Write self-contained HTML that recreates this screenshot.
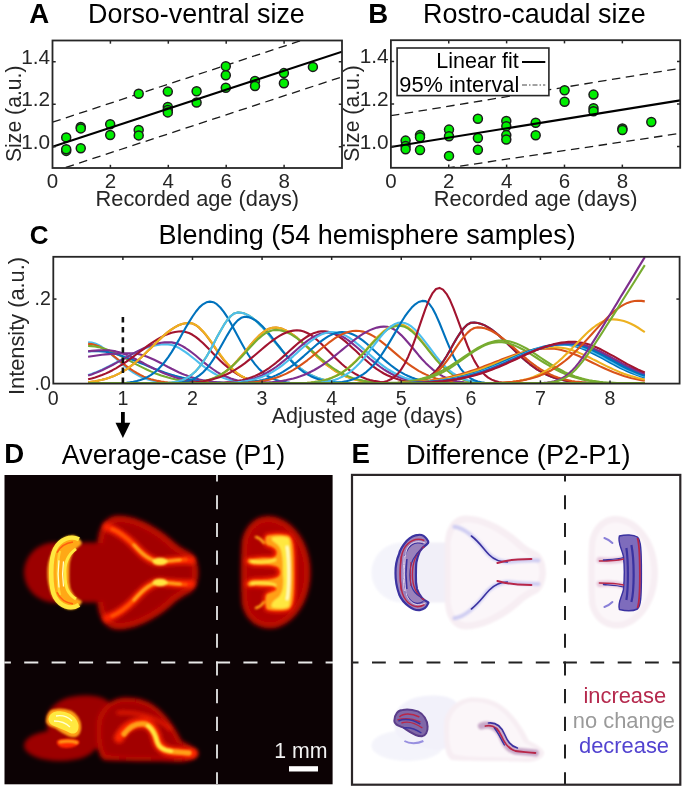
<!DOCTYPE html><html><head><meta charset="utf-8"><style>html,body{margin:0;padding:0;background:#fff;width:685px;height:790px;overflow:hidden}svg{display:block;will-change:transform}</style></head><body><svg width="685" height="790" viewBox="0 0 685 790" font-family='"Liberation Sans", sans-serif'>
<rect width="685" height="790" fill="#fff"/>
<text x="29.20" y="23.30" font-size="27.6" font-weight="700" text-anchor="start" fill="#000" >A</text>
<text x="88.10" y="23.40" font-size="26.9" font-weight="400" text-anchor="start" fill="#000" >Dorso-ventral size</text>
<text x="368.30" y="23.30" font-size="27.6" font-weight="700" text-anchor="start" fill="#000" >B</text>
<text x="423.10" y="23.40" font-size="26.9" font-weight="400" text-anchor="start" fill="#000" >Rostro-caudal size</text>
<clipPath id="clip52"><rect x="52.5" y="40.5" width="289.5" height="127.5"/></clipPath>
<g clip-path="url(#clip52)"><line x1="52.50" y1="171.83" x2="342.00" y2="76.84" stroke="#1a1a1a" stroke-width="1.3" stroke-dasharray="8.5,5.5"/><line x1="52.50" y1="122.16" x2="342.00" y2="27.18" stroke="#1a1a1a" stroke-width="1.3" stroke-dasharray="8.5,5.5"/><circle cx="66.20" cy="137.40" r="4.5" fill="#00ee00" stroke="#1c1c1c" stroke-width="1.5"/><circle cx="66.20" cy="150.90" r="4.5" fill="#00ee00" stroke="#1c1c1c" stroke-width="1.5"/><circle cx="66.20" cy="149.30" r="4.5" fill="#00ee00" stroke="#1c1c1c" stroke-width="1.5"/><circle cx="80.75" cy="126.90" r="4.5" fill="#00ee00" stroke="#1c1c1c" stroke-width="1.5"/><circle cx="80.75" cy="128.40" r="4.5" fill="#00ee00" stroke="#1c1c1c" stroke-width="1.5"/><circle cx="80.75" cy="148.30" r="4.5" fill="#00ee00" stroke="#1c1c1c" stroke-width="1.5"/><circle cx="110.20" cy="124.30" r="4.5" fill="#00ee00" stroke="#1c1c1c" stroke-width="1.5"/><circle cx="110.20" cy="135.00" r="4.5" fill="#00ee00" stroke="#1c1c1c" stroke-width="1.5"/><circle cx="138.70" cy="93.80" r="4.5" fill="#00ee00" stroke="#1c1c1c" stroke-width="1.5"/><circle cx="138.70" cy="130.00" r="4.5" fill="#00ee00" stroke="#1c1c1c" stroke-width="1.5"/><circle cx="138.70" cy="135.40" r="4.5" fill="#00ee00" stroke="#1c1c1c" stroke-width="1.5"/><circle cx="167.80" cy="91.60" r="4.5" fill="#00ee00" stroke="#1c1c1c" stroke-width="1.5"/><circle cx="167.80" cy="107.00" r="4.5" fill="#00ee00" stroke="#1c1c1c" stroke-width="1.5"/><circle cx="167.80" cy="110.00" r="4.5" fill="#00ee00" stroke="#1c1c1c" stroke-width="1.5"/><circle cx="167.80" cy="112.40" r="4.5" fill="#00ee00" stroke="#1c1c1c" stroke-width="1.5"/><circle cx="196.60" cy="91.20" r="4.5" fill="#00ee00" stroke="#1c1c1c" stroke-width="1.5"/><circle cx="196.60" cy="102.50" r="4.5" fill="#00ee00" stroke="#1c1c1c" stroke-width="1.5"/><circle cx="225.80" cy="66.30" r="4.5" fill="#00ee00" stroke="#1c1c1c" stroke-width="1.5"/><circle cx="225.80" cy="75.30" r="4.5" fill="#00ee00" stroke="#1c1c1c" stroke-width="1.5"/><circle cx="225.80" cy="87.80" r="4.5" fill="#00ee00" stroke="#1c1c1c" stroke-width="1.5"/><circle cx="255.00" cy="81.00" r="4.5" fill="#00ee00" stroke="#1c1c1c" stroke-width="1.5"/><circle cx="255.00" cy="86.00" r="4.5" fill="#00ee00" stroke="#1c1c1c" stroke-width="1.5"/><circle cx="283.90" cy="73.10" r="4.5" fill="#00ee00" stroke="#1c1c1c" stroke-width="1.5"/><circle cx="283.90" cy="83.30" r="4.5" fill="#00ee00" stroke="#1c1c1c" stroke-width="1.5"/><circle cx="312.90" cy="66.90" r="4.5" fill="#00ee00" stroke="#1c1c1c" stroke-width="1.5"/><line x1="52.50" y1="146.75" x2="342.00" y2="51.76" stroke="#000" stroke-width="2.1"/></g>
<rect x="52.5" y="40.5" width="289.5" height="127.5" fill="none" stroke="#262626" stroke-width="1.8"/>
<line x1="110.40" y1="168" x2="110.40" y2="164.8" stroke="#262626" stroke-width="1.5"/>
<line x1="110.40" y1="40.5" x2="110.40" y2="43.7" stroke="#262626" stroke-width="1.5"/>
<line x1="168.30" y1="168" x2="168.30" y2="164.8" stroke="#262626" stroke-width="1.5"/>
<line x1="168.30" y1="40.5" x2="168.30" y2="43.7" stroke="#262626" stroke-width="1.5"/>
<line x1="226.20" y1="168" x2="226.20" y2="164.8" stroke="#262626" stroke-width="1.5"/>
<line x1="226.20" y1="40.5" x2="226.20" y2="43.7" stroke="#262626" stroke-width="1.5"/>
<line x1="284.10" y1="168" x2="284.10" y2="164.8" stroke="#262626" stroke-width="1.5"/>
<line x1="284.10" y1="40.5" x2="284.10" y2="43.7" stroke="#262626" stroke-width="1.5"/>
<line x1="52.5" y1="146.75" x2="55.7" y2="146.75" stroke="#262626" stroke-width="1.5"/>
<line x1="342" y1="146.75" x2="338.8" y2="146.75" stroke="#262626" stroke-width="1.5"/>
<line x1="52.5" y1="104.25" x2="55.7" y2="104.25" stroke="#262626" stroke-width="1.5"/>
<line x1="342" y1="104.25" x2="338.8" y2="104.25" stroke="#262626" stroke-width="1.5"/>
<line x1="52.5" y1="61.75" x2="55.7" y2="61.75" stroke="#262626" stroke-width="1.5"/>
<line x1="342" y1="61.75" x2="338.8" y2="61.75" stroke="#262626" stroke-width="1.5"/>
<text x="52.50" y="188.30" font-size="20.5" font-weight="400" text-anchor="middle" fill="#262626" >0</text>
<text x="110.40" y="188.30" font-size="20.5" font-weight="400" text-anchor="middle" fill="#262626" >2</text>
<text x="168.30" y="188.30" font-size="20.5" font-weight="400" text-anchor="middle" fill="#262626" >4</text>
<text x="226.20" y="188.30" font-size="20.5" font-weight="400" text-anchor="middle" fill="#262626" >6</text>
<text x="284.10" y="188.30" font-size="20.5" font-weight="400" text-anchor="middle" fill="#262626" >8</text>
<text x="50.20" y="148.75" font-size="20.8" font-weight="400" text-anchor="end" fill="#262626" >1.0</text>
<text x="50.20" y="106.25" font-size="20.8" font-weight="400" text-anchor="end" fill="#262626" >1.2</text>
<text x="50.20" y="63.75" font-size="20.8" font-weight="400" text-anchor="end" fill="#262626" >1.4</text>
<text x="197.35" y="206.20" font-size="21.8" font-weight="400" text-anchor="middle" fill="#262626" >Recorded age (days)</text>
<text transform="translate(21.0,113.75) rotate(-90)" font-size="21.2" text-anchor="middle" fill="#262626">Size (a.u.)</text>
<clipPath id="clip390"><rect x="390.9" y="40.2" width="289.30000000000007" height="127.60000000000001"/></clipPath>
<g clip-path="url(#clip390)"><line x1="390.90" y1="176.41" x2="680.20" y2="133.35" stroke="#1a1a1a" stroke-width="1.3" stroke-dasharray="8.5,5.5"/><line x1="390.90" y1="115.70" x2="680.20" y2="68.27" stroke="#1a1a1a" stroke-width="1.3" stroke-dasharray="8.5,5.5"/><circle cx="405.60" cy="140.60" r="4.5" fill="#00ee00" stroke="#1c1c1c" stroke-width="1.5"/><circle cx="405.60" cy="146.00" r="4.5" fill="#00ee00" stroke="#1c1c1c" stroke-width="1.5"/><circle cx="405.60" cy="149.30" r="4.5" fill="#00ee00" stroke="#1c1c1c" stroke-width="1.5"/><circle cx="420.00" cy="135.10" r="4.5" fill="#00ee00" stroke="#1c1c1c" stroke-width="1.5"/><circle cx="420.00" cy="137.30" r="4.5" fill="#00ee00" stroke="#1c1c1c" stroke-width="1.5"/><circle cx="420.00" cy="150.00" r="4.5" fill="#00ee00" stroke="#1c1c1c" stroke-width="1.5"/><circle cx="449.00" cy="129.60" r="4.5" fill="#00ee00" stroke="#1c1c1c" stroke-width="1.5"/><circle cx="449.00" cy="136.20" r="4.5" fill="#00ee00" stroke="#1c1c1c" stroke-width="1.5"/><circle cx="449.00" cy="155.90" r="4.5" fill="#00ee00" stroke="#1c1c1c" stroke-width="1.5"/><circle cx="477.90" cy="118.70" r="4.5" fill="#00ee00" stroke="#1c1c1c" stroke-width="1.5"/><circle cx="477.90" cy="138.00" r="4.5" fill="#00ee00" stroke="#1c1c1c" stroke-width="1.5"/><circle cx="477.90" cy="149.80" r="4.5" fill="#00ee00" stroke="#1c1c1c" stroke-width="1.5"/><circle cx="506.30" cy="120.90" r="4.5" fill="#00ee00" stroke="#1c1c1c" stroke-width="1.5"/><circle cx="506.30" cy="126.30" r="4.5" fill="#00ee00" stroke="#1c1c1c" stroke-width="1.5"/><circle cx="506.30" cy="135.10" r="4.5" fill="#00ee00" stroke="#1c1c1c" stroke-width="1.5"/><circle cx="506.30" cy="139.50" r="4.5" fill="#00ee00" stroke="#1c1c1c" stroke-width="1.5"/><circle cx="535.70" cy="122.70" r="4.5" fill="#00ee00" stroke="#1c1c1c" stroke-width="1.5"/><circle cx="535.70" cy="135.30" r="4.5" fill="#00ee00" stroke="#1c1c1c" stroke-width="1.5"/><circle cx="564.60" cy="90.20" r="4.5" fill="#00ee00" stroke="#1c1c1c" stroke-width="1.5"/><circle cx="564.60" cy="101.80" r="4.5" fill="#00ee00" stroke="#1c1c1c" stroke-width="1.5"/><circle cx="593.50" cy="94.60" r="4.5" fill="#00ee00" stroke="#1c1c1c" stroke-width="1.5"/><circle cx="593.50" cy="108.30" r="4.5" fill="#00ee00" stroke="#1c1c1c" stroke-width="1.5"/><circle cx="593.50" cy="111.20" r="4.5" fill="#00ee00" stroke="#1c1c1c" stroke-width="1.5"/><circle cx="622.40" cy="128.50" r="4.5" fill="#00ee00" stroke="#1c1c1c" stroke-width="1.5"/><circle cx="622.40" cy="130.00" r="4.5" fill="#00ee00" stroke="#1c1c1c" stroke-width="1.5"/><circle cx="651.30" cy="122.00" r="4.5" fill="#00ee00" stroke="#1c1c1c" stroke-width="1.5"/><line x1="390.90" y1="146.96" x2="680.20" y2="100.38" stroke="#000" stroke-width="2.1"/></g>
<rect x="390.9" y="40.2" width="289.30000000000007" height="127.60000000000001" fill="none" stroke="#262626" stroke-width="1.8"/>
<line x1="448.76" y1="167.8" x2="448.76" y2="164.60000000000002" stroke="#262626" stroke-width="1.5"/>
<line x1="448.76" y1="40.2" x2="448.76" y2="43.400000000000006" stroke="#262626" stroke-width="1.5"/>
<line x1="506.62" y1="167.8" x2="506.62" y2="164.60000000000002" stroke="#262626" stroke-width="1.5"/>
<line x1="506.62" y1="40.2" x2="506.62" y2="43.400000000000006" stroke="#262626" stroke-width="1.5"/>
<line x1="564.48" y1="167.8" x2="564.48" y2="164.60000000000002" stroke="#262626" stroke-width="1.5"/>
<line x1="564.48" y1="40.2" x2="564.48" y2="43.400000000000006" stroke="#262626" stroke-width="1.5"/>
<line x1="622.34" y1="167.8" x2="622.34" y2="164.60000000000002" stroke="#262626" stroke-width="1.5"/>
<line x1="622.34" y1="40.2" x2="622.34" y2="43.400000000000006" stroke="#262626" stroke-width="1.5"/>
<line x1="390.9" y1="146.53" x2="394.09999999999997" y2="146.53" stroke="#262626" stroke-width="1.5"/>
<line x1="680.2" y1="146.53" x2="677.0" y2="146.53" stroke="#262626" stroke-width="1.5"/>
<line x1="390.9" y1="104.00" x2="394.09999999999997" y2="104.00" stroke="#262626" stroke-width="1.5"/>
<line x1="680.2" y1="104.00" x2="677.0" y2="104.00" stroke="#262626" stroke-width="1.5"/>
<line x1="390.9" y1="61.47" x2="394.09999999999997" y2="61.47" stroke="#262626" stroke-width="1.5"/>
<line x1="680.2" y1="61.47" x2="677.0" y2="61.47" stroke="#262626" stroke-width="1.5"/>
<text x="390.90" y="188.10" font-size="20.5" font-weight="400" text-anchor="middle" fill="#262626" >0</text>
<text x="448.76" y="188.10" font-size="20.5" font-weight="400" text-anchor="middle" fill="#262626" >2</text>
<text x="506.62" y="188.10" font-size="20.5" font-weight="400" text-anchor="middle" fill="#262626" >4</text>
<text x="564.48" y="188.10" font-size="20.5" font-weight="400" text-anchor="middle" fill="#262626" >6</text>
<text x="622.34" y="188.10" font-size="20.5" font-weight="400" text-anchor="middle" fill="#262626" >8</text>
<text x="388.60" y="148.53" font-size="20.8" font-weight="400" text-anchor="end" fill="#262626" >1.0</text>
<text x="388.60" y="106.00" font-size="20.8" font-weight="400" text-anchor="end" fill="#262626" >1.2</text>
<text x="388.60" y="63.47" font-size="20.8" font-weight="400" text-anchor="end" fill="#262626" >1.4</text>
<text x="535.65" y="206.00" font-size="21.8" font-weight="400" text-anchor="middle" fill="#262626" >Recorded age (days)</text>
<text transform="translate(359.4,113.5) rotate(-90)" font-size="21.2" text-anchor="middle" fill="#262626">Size (a.u.)</text>
<rect x="397.1" y="48" width="151.8" height="47.6" fill="#fff" stroke="#262626" stroke-width="1.6"/>
<text x="518.80" y="67.70" font-size="21.5" font-weight="400" text-anchor="end" fill="#000" >Linear fit</text>
<text x="519.30" y="92.20" font-size="21.8" font-weight="400" text-anchor="end" fill="#000" >95% interval</text>
<line x1="522" y1="62" x2="545.3" y2="62" stroke="#000" stroke-width="2"/>
<line x1="522" y1="85" x2="545.3" y2="85" stroke="#444" stroke-width="1" stroke-dasharray="5,2,1.5,2"/>
<text x="29.80" y="244.20" font-size="26" font-weight="700" text-anchor="start" fill="#000" >C</text>
<text x="158.60" y="243.80" font-size="27" font-weight="400" text-anchor="start" fill="#000" >Blending (54 hemisphere samples)</text>
<clipPath id="clipC"><rect x="53.3" y="256.3" width="626.3000000000001" height="127.80000000000001"/></clipPath>
<g clip-path="url(#clipC)" fill="none" stroke-width="2.1" stroke-linejoin="round"><line x1="88.09" y1="383.60" x2="644.81" y2="383.60" stroke="#0072BD"/><polyline points="88.1,342.2 91.6,342.5 95.1,343.5 98.5,345.0 102.0,347.0 105.5,349.5 109.0,352.3 112.5,355.4 115.9,358.5 119.4,361.6 122.9,364.6 126.4,367.5 129.8,370.2 133.3,372.5 136.8,374.6 140.3,376.5 143.8,378.0 147.2,379.3 150.7,380.3 154.2,381.1 157.7,381.8 161.2,382.3 164.6,382.7 168.1,382.9 171.6,383.1 175.1,383.3 178.6,383.4 182.0,383.5 185.5,383.5 189.0,383.5 192.5,383.6 196.0,383.6 199.4,383.6 202.9,383.6 206.4,383.6 209.9,383.6 213.4,383.6 216.8,383.6 220.3,383.6 223.8,383.6 227.3,383.6 230.8,383.6 234.2,383.6 237.7,383.6 241.2,383.6 244.7,383.6 248.1,383.6 251.6,383.6 255.1,383.6 258.6,383.6 262.1,383.6 265.5,383.6 269.0,383.6 272.5,383.6 276.0,383.6 279.5,383.6 282.9,383.6 286.4,383.6 289.9,383.6 293.4,383.6 296.9,383.6 300.3,383.6 303.8,383.6 307.3,383.6 310.8,383.6 314.3,383.6 317.7,383.6 321.2,383.6 324.7,383.6 328.2,383.6 331.7,383.6 335.1,383.6 338.6,383.6 342.1,383.6 345.6,383.6 349.1,383.6 352.5,383.6 356.0,383.6 359.5,383.6 363.0,383.6 366.5,383.6 369.9,383.6 373.4,383.6 376.9,383.6 380.4,383.6 383.8,383.6 387.3,383.6 390.8,383.6 394.3,383.6 397.8,383.6 401.2,383.6 404.7,383.6 408.2,383.6 411.7,383.6 415.2,383.6 418.6,383.6 422.1,383.6 425.6,383.6 429.1,383.6 432.6,383.6 436.0,383.6 439.5,383.6 443.0,383.6 446.5,383.6 450.0,383.6 453.4,383.6 456.9,383.6 460.4,383.6 463.9,383.6 467.4,383.6 470.8,383.6 474.3,383.6 477.8,383.6 481.3,383.6 484.8,383.6 488.2,383.6 491.7,383.6 495.2,383.6 498.7,383.6 502.1,383.6 505.6,383.6 509.1,383.6 512.6,383.6 516.1,383.6 519.5,383.6 523.0,383.6 526.5,383.6 530.0,383.6 533.5,383.6 536.9,383.6 540.4,383.6 543.9,383.6 547.4,383.6 550.9,383.6 554.3,383.6 557.8,383.6 561.3,383.6 564.8,383.6 568.3,383.6 571.7,383.6 575.2,383.6 578.7,383.6 582.2,383.6 585.7,383.6 589.1,383.6 592.6,383.6 596.1,383.6 599.6,383.6 603.1,383.6 606.5,383.6 610.0,383.6 613.5,383.6 617.0,383.6 620.4,383.6 623.9,383.6 627.4,383.6 630.9,383.6 634.4,383.6 637.8,383.6 641.3,383.6 644.8,383.6" stroke="#4DBEEE"/><polyline points="88.1,343.9 91.6,344.1 95.1,344.9 98.5,346.2 102.0,347.9 105.5,350.0 109.0,352.5 112.5,355.1 115.9,357.8 119.4,360.6 122.9,363.4 126.4,366.1 129.8,368.6 133.3,370.9 136.8,373.0 140.3,374.9 143.8,376.6 147.2,378.0 150.7,379.2 154.2,380.1 157.7,380.9 161.2,381.6 164.6,382.1 168.1,382.5 171.6,382.8 175.1,383.0 178.6,383.2 182.0,383.3 185.5,383.4 189.0,383.5 192.5,383.5 196.0,383.5 199.4,383.6 202.9,383.6 206.4,383.6 209.9,383.6 213.4,383.6 216.8,383.6 220.3,383.6 223.8,383.6 227.3,383.6 230.8,383.6 234.2,383.6 237.7,383.6 241.2,383.6 244.7,383.6 248.1,383.6 251.6,383.6 255.1,383.6 258.6,383.6 262.1,383.6 265.5,383.6 269.0,383.6 272.5,383.6 276.0,383.6 279.5,383.6 282.9,383.6 286.4,383.6 289.9,383.6 293.4,383.6 296.9,383.6 300.3,383.6 303.8,383.6 307.3,383.6 310.8,383.6 314.3,383.6 317.7,383.6 321.2,383.6 324.7,383.6 328.2,383.6 331.7,383.6 335.1,383.6 338.6,383.6 342.1,383.6 345.6,383.6 349.1,383.6 352.5,383.6 356.0,383.6 359.5,383.6 363.0,383.6 366.5,383.6 369.9,383.6 373.4,383.6 376.9,383.6 380.4,383.6 383.8,383.6 387.3,383.6 390.8,383.6 394.3,383.6 397.8,383.6 401.2,383.6 404.7,383.6 408.2,383.6 411.7,383.6 415.2,383.6 418.6,383.6 422.1,383.6 425.6,383.6 429.1,383.6 432.6,383.6 436.0,383.6 439.5,383.6 443.0,383.6 446.5,383.6 450.0,383.6 453.4,383.6 456.9,383.6 460.4,383.6 463.9,383.6 467.4,383.6 470.8,383.6 474.3,383.6 477.8,383.6 481.3,383.6 484.8,383.6 488.2,383.6 491.7,383.6 495.2,383.6 498.7,383.6 502.1,383.6 505.6,383.6 509.1,383.6 512.6,383.6 516.1,383.6 519.5,383.6 523.0,383.6 526.5,383.6 530.0,383.6 533.5,383.6 536.9,383.6 540.4,383.6 543.9,383.6 547.4,383.6 550.9,383.6 554.3,383.6 557.8,383.6 561.3,383.6 564.8,383.6 568.3,383.6 571.7,383.6 575.2,383.6 578.7,383.6 582.2,383.6 585.7,383.6 589.1,383.6 592.6,383.6 596.1,383.6 599.6,383.6 603.1,383.6 606.5,383.6 610.0,383.6 613.5,383.6 617.0,383.6 620.4,383.6 623.9,383.6 627.4,383.6 630.9,383.6 634.4,383.6 637.8,383.6 641.3,383.6 644.8,383.6" stroke="#D95319"/><polyline points="88.1,346.0 91.6,346.1 95.1,346.5 98.5,347.1 102.0,348.0 105.5,349.1 109.0,350.4 112.5,351.9 115.9,353.5 119.4,355.2 122.9,357.0 126.4,358.9 129.8,360.8 133.3,362.7 136.8,364.6 140.3,366.4 143.8,368.1 147.2,369.8 150.7,371.4 154.2,372.9 157.7,374.2 161.2,375.5 164.6,376.6 168.1,377.6 171.6,378.5 175.1,379.3 178.6,380.0 182.0,380.6 185.5,381.1 189.0,381.6 192.5,381.9 196.0,382.3 199.4,382.5 202.9,382.7 206.4,382.9 209.9,383.1 213.4,383.2 216.8,383.3 220.3,383.4 223.8,383.4 227.3,383.5 230.8,383.5 234.2,383.5 237.7,383.5 241.2,383.6 244.7,383.6 248.1,383.6 251.6,383.6 255.1,383.6 258.6,383.6 262.1,383.6 265.5,383.6 269.0,383.6 272.5,383.6 276.0,383.6 279.5,383.6 282.9,383.6 286.4,383.6 289.9,383.6 293.4,383.6 296.9,383.6 300.3,383.6 303.8,383.6 307.3,383.6 310.8,383.6 314.3,383.6 317.7,383.6 321.2,383.6 324.7,383.6 328.2,383.6 331.7,383.6 335.1,383.6 338.6,383.6 342.1,383.6 345.6,383.6 349.1,383.6 352.5,383.6 356.0,383.6 359.5,383.6 363.0,383.6 366.5,383.6 369.9,383.6 373.4,383.6 376.9,383.6 380.4,383.6 383.8,383.6 387.3,383.6 390.8,383.6 394.3,383.6 397.8,383.6 401.2,383.6 404.7,383.6 408.2,383.6 411.7,383.6 415.2,383.6 418.6,383.6 422.1,383.6 425.6,383.6 429.1,383.6 432.6,383.6 436.0,383.6 439.5,383.6 443.0,383.6 446.5,383.6 450.0,383.6 453.4,383.6 456.9,383.6 460.4,383.6 463.9,383.6 467.4,383.6 470.8,383.6 474.3,383.6 477.8,383.6 481.3,383.6 484.8,383.6 488.2,383.6 491.7,383.6 495.2,383.6 498.7,383.6 502.1,383.6 505.6,383.6 509.1,383.6 512.6,383.6 516.1,383.6 519.5,383.6 523.0,383.6 526.5,383.6 530.0,383.6 533.5,383.6 536.9,383.6 540.4,383.6 543.9,383.6 547.4,383.6 550.9,383.6 554.3,383.6 557.8,383.6 561.3,383.6 564.8,383.6 568.3,383.6 571.7,383.6 575.2,383.6 578.7,383.6 582.2,383.6 585.7,383.6 589.1,383.6 592.6,383.6 596.1,383.6 599.6,383.6 603.1,383.6 606.5,383.6 610.0,383.6 613.5,383.6 617.0,383.6 620.4,383.6 623.9,383.6 627.4,383.6 630.9,383.6 634.4,383.6 637.8,383.6 641.3,383.6 644.8,383.6" stroke="#77AC30"/><polyline points="88.1,351.5 91.6,351.2 95.1,351.1 98.5,351.1 102.0,351.4 105.5,351.8 109.0,352.4 112.5,353.2 115.9,354.1 119.4,355.1 122.9,356.2 126.4,357.5 129.8,358.8 133.3,360.1 136.8,361.5 140.3,363.0 143.8,364.4 147.2,365.9 150.7,367.3 154.2,368.7 157.7,370.0 161.2,371.3 164.6,372.6 168.1,373.7 171.6,374.8 175.1,375.8 178.6,376.7 182.0,377.6 185.5,378.4 189.0,379.1 192.5,379.7 196.0,380.2 199.4,380.7 202.9,381.2 206.4,381.6 209.9,381.9 213.4,382.2 216.8,382.4 220.3,382.6 223.8,382.8 227.3,382.9 230.8,383.1 234.2,383.2 237.7,383.3 241.2,383.3 244.7,383.4 248.1,383.4 251.6,383.5 255.1,383.5 258.6,383.5 262.1,383.5 265.5,383.6 269.0,383.6 272.5,383.6 276.0,383.6 279.5,383.6 282.9,383.6 286.4,383.6 289.9,383.6 293.4,383.6 296.9,383.6 300.3,383.6 303.8,383.6 307.3,383.6 310.8,383.6 314.3,383.6 317.7,383.6 321.2,383.6 324.7,383.6 328.2,383.6 331.7,383.6 335.1,383.6 338.6,383.6 342.1,383.6 345.6,383.6 349.1,383.6 352.5,383.6 356.0,383.6 359.5,383.6 363.0,383.6 366.5,383.6 369.9,383.6 373.4,383.6 376.9,383.6 380.4,383.6 383.8,383.6 387.3,383.6 390.8,383.6 394.3,383.6 397.8,383.6 401.2,383.6 404.7,383.6 408.2,383.6 411.7,383.6 415.2,383.6 418.6,383.6 422.1,383.6 425.6,383.6 429.1,383.6 432.6,383.6 436.0,383.6 439.5,383.6 443.0,383.6 446.5,383.6 450.0,383.6 453.4,383.6 456.9,383.6 460.4,383.6 463.9,383.6 467.4,383.6 470.8,383.6 474.3,383.6 477.8,383.6 481.3,383.6 484.8,383.6 488.2,383.6 491.7,383.6 495.2,383.6 498.7,383.6 502.1,383.6 505.6,383.6 509.1,383.6 512.6,383.6 516.1,383.6 519.5,383.6 523.0,383.6 526.5,383.6 530.0,383.6 533.5,383.6 536.9,383.6 540.4,383.6 543.9,383.6 547.4,383.6 550.9,383.6 554.3,383.6 557.8,383.6 561.3,383.6 564.8,383.6 568.3,383.6 571.7,383.6 575.2,383.6 578.7,383.6 582.2,383.6 585.7,383.6 589.1,383.6 592.6,383.6 596.1,383.6 599.6,383.6 603.1,383.6 606.5,383.6 610.0,383.6 613.5,383.6 617.0,383.6 620.4,383.6 623.9,383.6 627.4,383.6 630.9,383.6 634.4,383.6 637.8,383.6 641.3,383.6 644.8,383.6" stroke="#0072BD"/><polyline points="88.1,351.2 91.6,350.9 95.1,350.6 98.5,350.4 102.0,350.3 105.5,350.2 109.0,350.3 112.5,350.8 115.9,351.4 119.4,352.3 122.9,353.5 126.4,354.8 129.8,356.3 133.3,358.0 136.8,359.7 140.3,361.5 143.8,363.3 147.2,365.2 150.7,367.0 154.2,368.7 157.7,370.4 161.2,372.0 164.6,373.5 168.1,374.8 171.6,376.1 175.1,377.2 178.6,378.2 182.0,379.1 185.5,379.8 189.0,380.5 192.5,381.1 196.0,381.6 199.4,382.0 202.9,382.3 206.4,382.6 209.9,382.8 213.4,383.0 216.8,383.1 220.3,383.2 223.8,383.3 227.3,383.4 230.8,383.4 234.2,383.5 237.7,383.5 241.2,383.5 244.7,383.6 248.1,383.6 251.6,383.6 255.1,383.6 258.6,383.6 262.1,383.6 265.5,383.6 269.0,383.6 272.5,383.6 276.0,383.6 279.5,383.6 282.9,383.6 286.4,383.6 289.9,383.6 293.4,383.6 296.9,383.6 300.3,383.6 303.8,383.6 307.3,383.6 310.8,383.6 314.3,383.6 317.7,383.6 321.2,383.6 324.7,383.6 328.2,383.6 331.7,383.6 335.1,383.6 338.6,383.6 342.1,383.6 345.6,383.6 349.1,383.6 352.5,383.6 356.0,383.6 359.5,383.6 363.0,383.6 366.5,383.6 369.9,383.6 373.4,383.6 376.9,383.6 380.4,383.6 383.8,383.6 387.3,383.6 390.8,383.6 394.3,383.6 397.8,383.6 401.2,383.6 404.7,383.6 408.2,383.6 411.7,383.6 415.2,383.6 418.6,383.6 422.1,383.6 425.6,383.6 429.1,383.6 432.6,383.6 436.0,383.6 439.5,383.6 443.0,383.6 446.5,383.6 450.0,383.6 453.4,383.6 456.9,383.6 460.4,383.6 463.9,383.6 467.4,383.6 470.8,383.6 474.3,383.6 477.8,383.6 481.3,383.6 484.8,383.6 488.2,383.6 491.7,383.6 495.2,383.6 498.7,383.6 502.1,383.6 505.6,383.6 509.1,383.6 512.6,383.6 516.1,383.6 519.5,383.6 523.0,383.6 526.5,383.6 530.0,383.6 533.5,383.6 536.9,383.6 540.4,383.6 543.9,383.6 547.4,383.6 550.9,383.6 554.3,383.6 557.8,383.6 561.3,383.6 564.8,383.6 568.3,383.6 571.7,383.6 575.2,383.6 578.7,383.6 582.2,383.6 585.7,383.6 589.1,383.6 592.6,383.6 596.1,383.6 599.6,383.6 603.1,383.6 606.5,383.6 610.0,383.6 613.5,383.6 617.0,383.6 620.4,383.6 623.9,383.6 627.4,383.6 630.9,383.6 634.4,383.6 637.8,383.6 641.3,383.6 644.8,383.6" stroke="#7E2F8E"/><polyline points="88.1,356.7 91.6,356.2 95.1,355.7 98.5,355.2 102.0,354.8 105.5,354.4 109.0,354.1 112.5,353.8 115.9,353.6 119.4,353.4 122.9,353.3 126.4,353.2 129.8,353.2 133.3,353.3 136.8,353.8 140.3,354.5 143.8,355.5 147.2,356.7 150.7,358.2 154.2,359.8 157.7,361.5 161.2,363.3 164.6,365.1 168.1,367.0 171.6,368.8 175.1,370.5 178.6,372.2 182.0,373.7 185.5,375.1 189.0,376.4 192.5,377.6 196.0,378.6 199.4,379.5 202.9,380.2 206.4,380.9 209.9,381.4 213.4,381.9 216.8,382.3 220.3,382.6 223.8,382.8 227.3,383.0 230.8,383.1 234.2,383.3 237.7,383.4 241.2,383.4 244.7,383.5 248.1,383.5 251.6,383.5 255.1,383.6 258.6,383.6 262.1,383.6 265.5,383.6 269.0,383.6 272.5,383.6 276.0,383.6 279.5,383.6 282.9,383.6 286.4,383.6 289.9,383.6 293.4,383.6 296.9,383.6 300.3,383.6 303.8,383.6 307.3,383.6 310.8,383.6 314.3,383.6 317.7,383.6 321.2,383.6 324.7,383.6 328.2,383.6 331.7,383.6 335.1,383.6 338.6,383.6 342.1,383.6 345.6,383.6 349.1,383.6 352.5,383.6 356.0,383.6 359.5,383.6 363.0,383.6 366.5,383.6 369.9,383.6 373.4,383.6 376.9,383.6 380.4,383.6 383.8,383.6 387.3,383.6 390.8,383.6 394.3,383.6 397.8,383.6 401.2,383.6 404.7,383.6 408.2,383.6 411.7,383.6 415.2,383.6 418.6,383.6 422.1,383.6 425.6,383.6 429.1,383.6 432.6,383.6 436.0,383.6 439.5,383.6 443.0,383.6 446.5,383.6 450.0,383.6 453.4,383.6 456.9,383.6 460.4,383.6 463.9,383.6 467.4,383.6 470.8,383.6 474.3,383.6 477.8,383.6 481.3,383.6 484.8,383.6 488.2,383.6 491.7,383.6 495.2,383.6 498.7,383.6 502.1,383.6 505.6,383.6 509.1,383.6 512.6,383.6 516.1,383.6 519.5,383.6 523.0,383.6 526.5,383.6 530.0,383.6 533.5,383.6 536.9,383.6 540.4,383.6 543.9,383.6 547.4,383.6 550.9,383.6 554.3,383.6 557.8,383.6 561.3,383.6 564.8,383.6 568.3,383.6 571.7,383.6 575.2,383.6 578.7,383.6 582.2,383.6 585.7,383.6 589.1,383.6 592.6,383.6 596.1,383.6 599.6,383.6 603.1,383.6 606.5,383.6 610.0,383.6 613.5,383.6 617.0,383.6 620.4,383.6 623.9,383.6 627.4,383.6 630.9,383.6 634.4,383.6 637.8,383.6 641.3,383.6 644.8,383.6" stroke="#7E2F8E"/><polyline points="88.1,375.1 91.6,373.9 95.1,372.6 98.5,371.1 102.0,369.6 105.5,368.0 109.0,366.3 112.5,364.5 115.9,362.7 119.4,360.9 122.9,359.0 126.4,357.2 129.8,355.3 133.3,353.6 136.8,351.9 140.3,350.3 143.8,348.9 147.2,347.6 150.7,346.5 154.2,345.7 157.7,345.0 161.2,344.5 164.6,344.3 168.1,344.4 171.6,345.0 175.1,346.1 178.6,347.7 182.0,349.8 185.5,352.1 189.0,354.7 192.5,357.5 196.0,360.3 199.4,363.1 202.9,365.9 206.4,368.5 209.9,370.8 213.4,373.0 216.8,374.9 220.3,376.6 223.8,378.0 227.3,379.2 230.8,380.2 234.2,381.0 237.7,381.7 241.2,382.2 244.7,382.5 248.1,382.8 251.6,383.1 255.1,383.2 258.6,383.3 262.1,383.4 265.5,383.5 269.0,383.5 272.5,383.5 276.0,383.6 279.5,383.6 282.9,383.6 286.4,383.6 289.9,383.6 293.4,383.6 296.9,383.6 300.3,383.6 303.8,383.6 307.3,383.6 310.8,383.6 314.3,383.6 317.7,383.6 321.2,383.6 324.7,383.6 328.2,383.6 331.7,383.6 335.1,383.6 338.6,383.6 342.1,383.6 345.6,383.6 349.1,383.6 352.5,383.6 356.0,383.6 359.5,383.6 363.0,383.6 366.5,383.6 369.9,383.6 373.4,383.6 376.9,383.6 380.4,383.6 383.8,383.6 387.3,383.6 390.8,383.6 394.3,383.6 397.8,383.6 401.2,383.6 404.7,383.6 408.2,383.6 411.7,383.6 415.2,383.6 418.6,383.6 422.1,383.6 425.6,383.6 429.1,383.6 432.6,383.6 436.0,383.6 439.5,383.6 443.0,383.6 446.5,383.6 450.0,383.6 453.4,383.6 456.9,383.6 460.4,383.6 463.9,383.6 467.4,383.6 470.8,383.6 474.3,383.6 477.8,383.6 481.3,383.6 484.8,383.6 488.2,383.6 491.7,383.6 495.2,383.6 498.7,383.6 502.1,383.6 505.6,383.6 509.1,383.6 512.6,383.6 516.1,383.6 519.5,383.6 523.0,383.6 526.5,383.6 530.0,383.6 533.5,383.6 536.9,383.6 540.4,383.6 543.9,383.6 547.4,383.6 550.9,383.6 554.3,383.6 557.8,383.6 561.3,383.6 564.8,383.6 568.3,383.6 571.7,383.6 575.2,383.6 578.7,383.6 582.2,383.6 585.7,383.6 589.1,383.6 592.6,383.6 596.1,383.6 599.6,383.6 603.1,383.6 606.5,383.6 610.0,383.6 613.5,383.6 617.0,383.6 620.4,383.6 623.9,383.6 627.4,383.6 630.9,383.6 634.4,383.6 637.8,383.6 641.3,383.6 644.8,383.6" stroke="#4DBEEE"/><polyline points="88.1,375.6 91.6,374.4 95.1,373.1 98.5,371.7 102.0,370.2 105.5,368.5 109.0,366.8 112.5,365.0 115.9,363.1 119.4,361.2 122.9,359.3 126.4,357.3 129.8,355.4 133.3,353.4 136.8,351.6 140.3,349.9 143.8,348.2 147.2,346.8 150.7,345.5 154.2,344.3 157.7,343.5 161.2,342.8 164.6,342.4 168.1,342.2 171.6,342.4 175.1,343.1 178.6,344.3 182.0,345.9 185.5,348.0 189.0,350.4 192.5,353.0 196.0,355.8 199.4,358.7 202.9,361.6 206.4,364.4 209.9,367.0 213.4,369.5 216.8,371.8 220.3,373.8 223.8,375.6 227.3,377.1 230.8,378.4 234.2,379.5 237.7,380.5 241.2,381.2 244.7,381.8 248.1,382.2 251.6,382.6 255.1,382.9 258.6,383.1 262.1,383.2 265.5,383.3 269.0,383.4 272.5,383.5 276.0,383.5 279.5,383.5 282.9,383.6 286.4,383.6 289.9,383.6 293.4,383.6 296.9,383.6 300.3,383.6 303.8,383.6 307.3,383.6 310.8,383.6 314.3,383.6 317.7,383.6 321.2,383.6 324.7,383.6 328.2,383.6 331.7,383.6 335.1,383.6 338.6,383.6 342.1,383.6 345.6,383.6 349.1,383.6 352.5,383.6 356.0,383.6 359.5,383.6 363.0,383.6 366.5,383.6 369.9,383.6 373.4,383.6 376.9,383.6 380.4,383.6 383.8,383.6 387.3,383.6 390.8,383.6 394.3,383.6 397.8,383.6 401.2,383.6 404.7,383.6 408.2,383.6 411.7,383.6 415.2,383.6 418.6,383.6 422.1,383.6 425.6,383.6 429.1,383.6 432.6,383.6 436.0,383.6 439.5,383.6 443.0,383.6 446.5,383.6 450.0,383.6 453.4,383.6 456.9,383.6 460.4,383.6 463.9,383.6 467.4,383.6 470.8,383.6 474.3,383.6 477.8,383.6 481.3,383.6 484.8,383.6 488.2,383.6 491.7,383.6 495.2,383.6 498.7,383.6 502.1,383.6 505.6,383.6 509.1,383.6 512.6,383.6 516.1,383.6 519.5,383.6 523.0,383.6 526.5,383.6 530.0,383.6 533.5,383.6 536.9,383.6 540.4,383.6 543.9,383.6 547.4,383.6 550.9,383.6 554.3,383.6 557.8,383.6 561.3,383.6 564.8,383.6 568.3,383.6 571.7,383.6 575.2,383.6 578.7,383.6 582.2,383.6 585.7,383.6 589.1,383.6 592.6,383.6 596.1,383.6 599.6,383.6 603.1,383.6 606.5,383.6 610.0,383.6 613.5,383.6 617.0,383.6 620.4,383.6 623.9,383.6 627.4,383.6 630.9,383.6 634.4,383.6 637.8,383.6 641.3,383.6 644.8,383.6" stroke="#7E2F8E"/><polyline points="88.1,379.3 91.6,378.4 95.1,377.4 98.5,376.3 102.0,375.0 105.5,373.6 109.0,372.0 112.5,370.2 115.9,368.3 119.4,366.2 122.9,364.0 126.4,361.7 129.8,359.2 133.3,356.7 136.8,354.0 140.3,351.4 143.8,348.8 147.2,346.2 150.7,343.7 154.2,341.3 157.7,339.1 161.2,337.2 164.6,335.4 168.1,334.0 171.6,332.8 175.1,332.0 178.6,331.5 182.0,331.4 185.5,331.9 189.0,333.0 192.5,334.8 196.0,337.1 199.4,339.9 202.9,343.1 206.4,346.5 209.9,350.1 213.4,353.7 216.8,357.3 220.3,360.7 223.8,364.0 227.3,367.0 230.8,369.7 234.2,372.2 237.7,374.3 241.2,376.1 244.7,377.7 248.1,379.0 251.6,380.0 255.1,380.9 258.6,381.6 262.1,382.1 265.5,382.5 269.0,382.8 272.5,383.0 276.0,383.2 279.5,383.3 282.9,383.4 286.4,383.5 289.9,383.5 293.4,383.5 296.9,383.6 300.3,383.6 303.8,383.6 307.3,383.6 310.8,383.6 314.3,383.6 317.7,383.6 321.2,383.6 324.7,383.6 328.2,383.6 331.7,383.6 335.1,383.6 338.6,383.6 342.1,383.6 345.6,383.6 349.1,383.6 352.5,383.6 356.0,383.6 359.5,383.6 363.0,383.6 366.5,383.6 369.9,383.6 373.4,383.6 376.9,383.6 380.4,383.6 383.8,383.6 387.3,383.6 390.8,383.6 394.3,383.6 397.8,383.6 401.2,383.6 404.7,383.6 408.2,383.6 411.7,383.6 415.2,383.6 418.6,383.6 422.1,383.6 425.6,383.6 429.1,383.6 432.6,383.6 436.0,383.6 439.5,383.6 443.0,383.6 446.5,383.6 450.0,383.6 453.4,383.6 456.9,383.6 460.4,383.6 463.9,383.6 467.4,383.6 470.8,383.6 474.3,383.6 477.8,383.6 481.3,383.6 484.8,383.6 488.2,383.6 491.7,383.6 495.2,383.6 498.7,383.6 502.1,383.6 505.6,383.6 509.1,383.6 512.6,383.6 516.1,383.6 519.5,383.6 523.0,383.6 526.5,383.6 530.0,383.6 533.5,383.6 536.9,383.6 540.4,383.6 543.9,383.6 547.4,383.6 550.9,383.6 554.3,383.6 557.8,383.6 561.3,383.6 564.8,383.6 568.3,383.6 571.7,383.6 575.2,383.6 578.7,383.6 582.2,383.6 585.7,383.6 589.1,383.6 592.6,383.6 596.1,383.6 599.6,383.6 603.1,383.6 606.5,383.6 610.0,383.6 613.5,383.6 617.0,383.6 620.4,383.6 623.9,383.6 627.4,383.6 630.9,383.6 634.4,383.6 637.8,383.6 641.3,383.6 644.8,383.6" stroke="#A2142F"/><polyline points="88.1,382.2 91.6,381.7 95.1,381.2 98.5,380.6 102.0,379.8 105.5,378.9 109.0,377.8 112.5,376.6 115.9,375.1 119.4,373.4 122.9,371.4 126.4,369.3 129.8,366.8 133.3,364.2 136.8,361.3 140.3,358.2 143.8,355.0 147.2,351.6 150.7,348.2 154.2,344.7 157.7,341.3 161.2,338.0 164.6,334.8 168.1,331.9 171.6,329.3 175.1,327.1 178.6,325.3 182.0,324.0 185.5,323.2 189.0,322.9 192.5,323.5 196.0,325.2 199.4,327.9 202.9,331.4 206.4,335.7 209.9,340.4 213.4,345.4 216.8,350.4 220.3,355.4 223.8,360.0 227.3,364.2 230.8,368.0 234.2,371.3 237.7,374.1 241.2,376.3 244.7,378.2 248.1,379.6 251.6,380.7 255.1,381.6 258.6,382.2 262.1,382.7 265.5,383.0 269.0,383.2 272.5,383.3 276.0,383.4 279.5,383.5 282.9,383.5 286.4,383.6 289.9,383.6 293.4,383.6 296.9,383.6 300.3,383.6 303.8,383.6 307.3,383.6 310.8,383.6 314.3,383.6 317.7,383.6 321.2,383.6 324.7,383.6 328.2,383.6 331.7,383.6 335.1,383.6 338.6,383.6 342.1,383.6 345.6,383.6 349.1,383.6 352.5,383.6 356.0,383.6 359.5,383.6 363.0,383.6 366.5,383.6 369.9,383.6 373.4,383.6 376.9,383.6 380.4,383.6 383.8,383.6 387.3,383.6 390.8,383.6 394.3,383.6 397.8,383.6 401.2,383.6 404.7,383.6 408.2,383.6 411.7,383.6 415.2,383.6 418.6,383.6 422.1,383.6 425.6,383.6 429.1,383.6 432.6,383.6 436.0,383.6 439.5,383.6 443.0,383.6 446.5,383.6 450.0,383.6 453.4,383.6 456.9,383.6 460.4,383.6 463.9,383.6 467.4,383.6 470.8,383.6 474.3,383.6 477.8,383.6 481.3,383.6 484.8,383.6 488.2,383.6 491.7,383.6 495.2,383.6 498.7,383.6 502.1,383.6 505.6,383.6 509.1,383.6 512.6,383.6 516.1,383.6 519.5,383.6 523.0,383.6 526.5,383.6 530.0,383.6 533.5,383.6 536.9,383.6 540.4,383.6 543.9,383.6 547.4,383.6 550.9,383.6 554.3,383.6 557.8,383.6 561.3,383.6 564.8,383.6 568.3,383.6 571.7,383.6 575.2,383.6 578.7,383.6 582.2,383.6 585.7,383.6 589.1,383.6 592.6,383.6 596.1,383.6 599.6,383.6 603.1,383.6 606.5,383.6 610.0,383.6 613.5,383.6 617.0,383.6 620.4,383.6 623.9,383.6 627.4,383.6 630.9,383.6 634.4,383.6 637.8,383.6 641.3,383.6 644.8,383.6" stroke="#D95319"/><polyline points="88.1,382.2 91.6,381.7 95.1,381.2 98.5,380.6 102.0,379.8 105.5,378.9 109.0,377.8 112.5,376.6 115.9,375.1 119.4,373.4 122.9,371.4 126.4,369.3 129.8,366.8 133.3,364.2 136.8,361.3 140.3,358.2 143.8,355.0 147.2,351.6 150.7,348.2 154.2,344.7 157.7,341.3 161.2,338.0 164.6,334.8 168.1,331.9 171.6,329.3 175.1,327.1 178.6,325.3 182.0,324.0 185.5,323.2 189.0,322.9 192.5,323.5 196.0,325.1 199.4,327.7 202.9,331.2 206.4,335.3 209.9,339.9 213.4,344.8 216.8,349.8 220.3,354.6 223.8,359.3 227.3,363.5 230.8,367.3 234.2,370.6 237.7,373.5 241.2,375.8 244.7,377.7 248.1,379.3 251.6,380.5 255.1,381.4 258.6,382.0 262.1,382.5 265.5,382.9 269.0,383.1 272.5,383.3 276.0,383.4 279.5,383.5 282.9,383.5 286.4,383.6 289.9,383.6 293.4,383.6 296.9,383.6 300.3,383.6 303.8,383.6 307.3,383.6 310.8,383.6 314.3,383.6 317.7,383.6 321.2,383.6 324.7,383.6 328.2,383.6 331.7,383.6 335.1,383.6 338.6,383.6 342.1,383.6 345.6,383.6 349.1,383.6 352.5,383.6 356.0,383.6 359.5,383.6 363.0,383.6 366.5,383.6 369.9,383.6 373.4,383.6 376.9,383.6 380.4,383.6 383.8,383.6 387.3,383.6 390.8,383.6 394.3,383.6 397.8,383.6 401.2,383.6 404.7,383.6 408.2,383.6 411.7,383.6 415.2,383.6 418.6,383.6 422.1,383.6 425.6,383.6 429.1,383.6 432.6,383.6 436.0,383.6 439.5,383.6 443.0,383.6 446.5,383.6 450.0,383.6 453.4,383.6 456.9,383.6 460.4,383.6 463.9,383.6 467.4,383.6 470.8,383.6 474.3,383.6 477.8,383.6 481.3,383.6 484.8,383.6 488.2,383.6 491.7,383.6 495.2,383.6 498.7,383.6 502.1,383.6 505.6,383.6 509.1,383.6 512.6,383.6 516.1,383.6 519.5,383.6 523.0,383.6 526.5,383.6 530.0,383.6 533.5,383.6 536.9,383.6 540.4,383.6 543.9,383.6 547.4,383.6 550.9,383.6 554.3,383.6 557.8,383.6 561.3,383.6 564.8,383.6 568.3,383.6 571.7,383.6 575.2,383.6 578.7,383.6 582.2,383.6 585.7,383.6 589.1,383.6 592.6,383.6 596.1,383.6 599.6,383.6 603.1,383.6 606.5,383.6 610.0,383.6 613.5,383.6 617.0,383.6 620.4,383.6 623.9,383.6 627.4,383.6 630.9,383.6 634.4,383.6 637.8,383.6 641.3,383.6 644.8,383.6" stroke="#EDB120"/><polyline points="88.1,383.6 91.6,383.6 95.1,383.6 98.5,383.6 102.0,383.6 105.5,383.5 109.0,383.5 112.5,383.4 115.9,383.3 119.4,383.2 122.9,383.0 126.4,382.7 129.8,382.3 133.3,381.8 136.8,381.0 140.3,380.1 143.8,378.8 147.2,377.2 150.7,375.2 154.2,372.7 157.7,369.7 161.2,366.1 164.6,362.0 168.1,357.3 171.6,352.1 175.1,346.4 178.6,340.4 182.0,334.2 185.5,328.0 189.0,322.1 192.5,316.5 196.0,311.5 199.4,307.4 202.9,304.3 206.4,302.3 209.9,301.6 213.4,302.2 216.8,304.2 220.3,307.5 223.8,311.9 227.3,317.2 230.8,323.2 234.2,329.6 237.7,336.1 241.2,342.5 244.7,348.7 248.1,354.5 251.6,359.7 255.1,364.4 258.6,368.4 262.1,371.7 265.5,374.5 269.0,376.8 272.5,378.5 276.0,379.9 279.5,381.0 282.9,381.8 286.4,382.3 289.9,382.7 293.4,383.0 296.9,383.2 300.3,383.4 303.8,383.4 307.3,383.5 310.8,383.5 314.3,383.6 317.7,383.6 321.2,383.6 324.7,383.6 328.2,383.6 331.7,383.6 335.1,383.6 338.6,383.6 342.1,383.6 345.6,383.6 349.1,383.6 352.5,383.6 356.0,383.6 359.5,383.6 363.0,383.6 366.5,383.6 369.9,383.6 373.4,383.6 376.9,383.6 380.4,383.6 383.8,383.6 387.3,383.6 390.8,383.6 394.3,383.6 397.8,383.6 401.2,383.6 404.7,383.6 408.2,383.6 411.7,383.6 415.2,383.6 418.6,383.6 422.1,383.6 425.6,383.6 429.1,383.6 432.6,383.6 436.0,383.6 439.5,383.6 443.0,383.6 446.5,383.6 450.0,383.6 453.4,383.6 456.9,383.6 460.4,383.6 463.9,383.6 467.4,383.6 470.8,383.6 474.3,383.6 477.8,383.6 481.3,383.6 484.8,383.6 488.2,383.6 491.7,383.6 495.2,383.6 498.7,383.6 502.1,383.6 505.6,383.6 509.1,383.6 512.6,383.6 516.1,383.6 519.5,383.6 523.0,383.6 526.5,383.6 530.0,383.6 533.5,383.6 536.9,383.6 540.4,383.6 543.9,383.6 547.4,383.6 550.9,383.6 554.3,383.6 557.8,383.6 561.3,383.6 564.8,383.6 568.3,383.6 571.7,383.6 575.2,383.6 578.7,383.6 582.2,383.6 585.7,383.6 589.1,383.6 592.6,383.6 596.1,383.6 599.6,383.6 603.1,383.6 606.5,383.6 610.0,383.6 613.5,383.6 617.0,383.6 620.4,383.6 623.9,383.6 627.4,383.6 630.9,383.6 634.4,383.6 637.8,383.6 641.3,383.6 644.8,383.6" stroke="#0072BD"/><polyline points="88.1,383.6 91.6,383.6 95.1,383.6 98.5,383.6 102.0,383.6 105.5,383.6 109.0,383.6 112.5,383.6 115.9,383.6 119.4,383.6 122.9,383.6 126.4,383.6 129.8,383.6 133.3,383.6 136.8,383.6 140.3,383.6 143.8,383.6 147.2,383.6 150.7,383.6 154.2,383.5 157.7,383.5 161.2,383.4 164.6,383.2 168.1,383.0 171.6,382.6 175.1,382.1 178.6,381.3 182.0,380.2 185.5,378.7 189.0,376.7 192.5,374.1 196.0,370.9 199.4,366.9 202.9,362.1 206.4,356.7 209.9,350.7 213.4,344.2 216.8,337.6 220.3,331.2 223.8,325.2 227.3,320.0 230.8,316.0 234.2,313.4 237.7,312.4 241.2,312.7 244.7,313.6 248.1,315.2 251.6,317.4 255.1,320.1 258.6,323.4 262.1,326.9 265.5,330.8 269.0,334.9 272.5,339.1 276.0,343.4 279.5,347.5 282.9,351.6 286.4,355.5 289.9,359.1 293.4,362.5 296.9,365.5 300.3,368.3 303.8,370.8 307.3,373.0 310.8,374.9 314.3,376.5 317.7,377.9 321.2,379.0 324.7,380.0 328.2,380.8 331.7,381.4 335.1,381.9 338.6,382.3 342.1,382.6 345.6,382.9 349.1,383.1 352.5,383.2 356.0,383.3 359.5,383.4 363.0,383.5 366.5,383.5 369.9,383.5 373.4,383.6 376.9,383.6 380.4,383.6 383.8,383.6 387.3,383.6 390.8,383.6 394.3,383.6 397.8,383.6 401.2,383.6 404.7,383.6 408.2,383.6 411.7,383.6 415.2,383.6 418.6,383.6 422.1,383.6 425.6,383.6 429.1,383.6 432.6,383.6 436.0,383.6 439.5,383.6 443.0,383.6 446.5,383.6 450.0,383.6 453.4,383.6 456.9,383.6 460.4,383.6 463.9,383.6 467.4,383.6 470.8,383.6 474.3,383.6 477.8,383.6 481.3,383.6 484.8,383.6 488.2,383.6 491.7,383.6 495.2,383.6 498.7,383.6 502.1,383.6 505.6,383.6 509.1,383.6 512.6,383.6 516.1,383.6 519.5,383.6 523.0,383.6 526.5,383.6 530.0,383.6 533.5,383.6 536.9,383.6 540.4,383.6 543.9,383.6 547.4,383.6 550.9,383.6 554.3,383.6 557.8,383.6 561.3,383.6 564.8,383.6 568.3,383.6 571.7,383.6 575.2,383.6 578.7,383.6 582.2,383.6 585.7,383.6 589.1,383.6 592.6,383.6 596.1,383.6 599.6,383.6 603.1,383.6 606.5,383.6 610.0,383.6 613.5,383.6 617.0,383.6 620.4,383.6 623.9,383.6 627.4,383.6 630.9,383.6 634.4,383.6 637.8,383.6 641.3,383.6 644.8,383.6" stroke="#77AC30"/><polyline points="88.1,383.6 91.6,383.6 95.1,383.6 98.5,383.6 102.0,383.6 105.5,383.6 109.0,383.6 112.5,383.6 115.9,383.6 119.4,383.6 122.9,383.6 126.4,383.6 129.8,383.6 133.3,383.6 136.8,383.6 140.3,383.6 143.8,383.6 147.2,383.6 150.7,383.6 154.2,383.5 157.7,383.5 161.2,383.4 164.6,383.2 168.1,383.0 171.6,382.6 175.1,382.1 178.6,381.3 182.0,380.2 185.5,378.7 189.0,376.7 192.5,374.1 196.0,370.9 199.4,366.9 202.9,362.1 206.4,356.7 209.9,350.7 213.4,344.2 216.8,337.6 220.3,331.2 223.8,325.2 227.3,320.0 230.8,316.0 234.2,313.4 237.7,312.4 241.2,312.7 244.7,313.6 248.1,315.2 251.6,317.4 255.1,320.1 258.6,323.4 262.1,326.9 265.5,330.8 269.0,334.9 272.5,339.1 276.0,343.4 279.5,347.5 282.9,351.6 286.4,355.5 289.9,359.1 293.4,362.5 296.9,365.5 300.3,368.3 303.8,370.8 307.3,373.0 310.8,374.9 314.3,376.5 317.7,377.9 321.2,379.0 324.7,380.0 328.2,380.8 331.7,381.4 335.1,381.9 338.6,382.3 342.1,382.6 345.6,382.9 349.1,383.1 352.5,383.2 356.0,383.3 359.5,383.4 363.0,383.5 366.5,383.5 369.9,383.5 373.4,383.6 376.9,383.6 380.4,383.6 383.8,383.6 387.3,383.6 390.8,383.6 394.3,383.6 397.8,383.6 401.2,383.6 404.7,383.6 408.2,383.6 411.7,383.6 415.2,383.6 418.6,383.6 422.1,383.6 425.6,383.6 429.1,383.6 432.6,383.6 436.0,383.6 439.5,383.6 443.0,383.6 446.5,383.6 450.0,383.6 453.4,383.6 456.9,383.6 460.4,383.6 463.9,383.6 467.4,383.6 470.8,383.6 474.3,383.6 477.8,383.6 481.3,383.6 484.8,383.6 488.2,383.6 491.7,383.6 495.2,383.6 498.7,383.6 502.1,383.6 505.6,383.6 509.1,383.6 512.6,383.6 516.1,383.6 519.5,383.6 523.0,383.6 526.5,383.6 530.0,383.6 533.5,383.6 536.9,383.6 540.4,383.6 543.9,383.6 547.4,383.6 550.9,383.6 554.3,383.6 557.8,383.6 561.3,383.6 564.8,383.6 568.3,383.6 571.7,383.6 575.2,383.6 578.7,383.6 582.2,383.6 585.7,383.6 589.1,383.6 592.6,383.6 596.1,383.6 599.6,383.6 603.1,383.6 606.5,383.6 610.0,383.6 613.5,383.6 617.0,383.6 620.4,383.6 623.9,383.6 627.4,383.6 630.9,383.6 634.4,383.6 637.8,383.6 641.3,383.6 644.8,383.6" stroke="#4DBEEE"/><polyline points="88.1,383.6 91.6,383.6 95.1,383.6 98.5,383.6 102.0,383.6 105.5,383.6 109.0,383.6 112.5,383.6 115.9,383.6 119.4,383.6 122.9,383.6 126.4,383.6 129.8,383.6 133.3,383.6 136.8,383.6 140.3,383.6 143.8,383.6 147.2,383.6 150.7,383.6 154.2,383.6 157.7,383.6 161.2,383.5 164.6,383.5 168.1,383.4 171.6,383.3 175.1,383.1 178.6,382.8 182.0,382.4 185.5,381.7 189.0,380.8 192.5,379.5 196.0,377.7 199.4,375.4 202.9,372.5 206.4,368.8 209.9,364.5 213.4,359.4 216.8,353.7 220.3,347.6 223.8,341.3 227.3,335.1 230.8,329.3 234.2,324.3 237.7,320.4 241.2,317.8 244.7,316.8 248.1,317.1 251.6,318.3 255.1,320.2 258.6,322.7 262.1,325.9 265.5,329.7 269.0,333.7 272.5,338.1 276.0,342.6 279.5,347.0 282.9,351.4 286.4,355.7 289.9,359.6 293.4,363.3 296.9,366.6 300.3,369.5 303.8,372.1 307.3,374.3 310.8,376.2 314.3,377.8 317.7,379.1 321.2,380.1 324.7,381.0 328.2,381.6 331.7,382.1 335.1,382.5 338.6,382.8 342.1,383.0 345.6,383.2 349.1,383.3 352.5,383.4 356.0,383.5 359.5,383.5 363.0,383.5 366.5,383.6 369.9,383.6 373.4,383.6 376.9,383.6 380.4,383.6 383.8,383.6 387.3,383.6 390.8,383.6 394.3,383.6 397.8,383.6 401.2,383.6 404.7,383.6 408.2,383.6 411.7,383.6 415.2,383.6 418.6,383.6 422.1,383.6 425.6,383.6 429.1,383.6 432.6,383.6 436.0,383.6 439.5,383.6 443.0,383.6 446.5,383.6 450.0,383.6 453.4,383.6 456.9,383.6 460.4,383.6 463.9,383.6 467.4,383.6 470.8,383.6 474.3,383.6 477.8,383.6 481.3,383.6 484.8,383.6 488.2,383.6 491.7,383.6 495.2,383.6 498.7,383.6 502.1,383.6 505.6,383.6 509.1,383.6 512.6,383.6 516.1,383.6 519.5,383.6 523.0,383.6 526.5,383.6 530.0,383.6 533.5,383.6 536.9,383.6 540.4,383.6 543.9,383.6 547.4,383.6 550.9,383.6 554.3,383.6 557.8,383.6 561.3,383.6 564.8,383.6 568.3,383.6 571.7,383.6 575.2,383.6 578.7,383.6 582.2,383.6 585.7,383.6 589.1,383.6 592.6,383.6 596.1,383.6 599.6,383.6 603.1,383.6 606.5,383.6 610.0,383.6 613.5,383.6 617.0,383.6 620.4,383.6 623.9,383.6 627.4,383.6 630.9,383.6 634.4,383.6 637.8,383.6 641.3,383.6 644.8,383.6" stroke="#0072BD"/><polyline points="88.1,383.6 91.6,383.6 95.1,383.6 98.5,383.6 102.0,383.6 105.5,383.6 109.0,383.6 112.5,383.6 115.9,383.6 119.4,383.6 122.9,383.6 126.4,383.6 129.8,383.6 133.3,383.6 136.8,383.6 140.3,383.6 143.8,383.6 147.2,383.6 150.7,383.6 154.2,383.6 157.7,383.6 161.2,383.6 164.6,383.6 168.1,383.6 171.6,383.5 175.1,383.5 178.6,383.5 182.0,383.4 185.5,383.3 189.0,383.1 192.5,382.9 196.0,382.6 199.4,382.1 202.9,381.6 206.4,380.8 209.9,379.8 213.4,378.6 216.8,377.1 220.3,375.2 223.8,373.0 227.3,370.4 230.8,367.4 234.2,364.0 237.7,360.3 241.2,356.3 244.7,352.2 248.1,347.9 251.6,343.8 255.1,339.8 258.6,336.1 262.1,333.0 265.5,330.5 269.0,328.7 272.5,327.8 276.0,327.6 279.5,328.1 282.9,329.1 286.4,330.7 289.9,332.6 293.4,335.0 296.9,337.7 300.3,340.7 303.8,343.9 307.3,347.2 310.8,350.6 314.3,353.9 317.7,357.2 321.2,360.3 324.7,363.3 328.2,366.0 331.7,368.5 335.1,370.8 338.6,372.9 342.1,374.7 345.6,376.3 349.1,377.6 352.5,378.8 356.0,379.7 359.5,380.5 363.0,381.2 366.5,381.7 369.9,382.2 373.4,382.5 376.9,382.8 380.4,383.0 383.8,383.1 387.3,383.3 390.8,383.4 394.3,383.4 397.8,383.5 401.2,383.5 404.7,383.5 408.2,383.6 411.7,383.6 415.2,383.6 418.6,383.6 422.1,383.6 425.6,383.6 429.1,383.6 432.6,383.6 436.0,383.6 439.5,383.6 443.0,383.6 446.5,383.6 450.0,383.6 453.4,383.6 456.9,383.6 460.4,383.6 463.9,383.6 467.4,383.6 470.8,383.6 474.3,383.6 477.8,383.6 481.3,383.6 484.8,383.6 488.2,383.6 491.7,383.6 495.2,383.6 498.7,383.6 502.1,383.6 505.6,383.6 509.1,383.6 512.6,383.6 516.1,383.6 519.5,383.6 523.0,383.6 526.5,383.6 530.0,383.6 533.5,383.6 536.9,383.6 540.4,383.6 543.9,383.6 547.4,383.6 550.9,383.6 554.3,383.6 557.8,383.6 561.3,383.6 564.8,383.6 568.3,383.6 571.7,383.6 575.2,383.6 578.7,383.6 582.2,383.6 585.7,383.6 589.1,383.6 592.6,383.6 596.1,383.6 599.6,383.6 603.1,383.6 606.5,383.6 610.0,383.6 613.5,383.6 617.0,383.6 620.4,383.6 623.9,383.6 627.4,383.6 630.9,383.6 634.4,383.6 637.8,383.6 641.3,383.6 644.8,383.6" stroke="#D95319"/><polyline points="88.1,383.6 91.6,383.6 95.1,383.6 98.5,383.6 102.0,383.6 105.5,383.6 109.0,383.6 112.5,383.6 115.9,383.6 119.4,383.6 122.9,383.6 126.4,383.6 129.8,383.6 133.3,383.6 136.8,383.6 140.3,383.6 143.8,383.6 147.2,383.6 150.7,383.6 154.2,383.6 157.7,383.6 161.2,383.6 164.6,383.6 168.1,383.6 171.6,383.5 175.1,383.5 178.6,383.5 182.0,383.4 185.5,383.3 189.0,383.1 192.5,382.9 196.0,382.6 199.4,382.1 202.9,381.6 206.4,380.8 209.9,379.8 213.4,378.6 216.8,377.1 220.3,375.2 223.8,373.0 227.3,370.4 230.8,367.4 234.2,364.0 237.7,360.3 241.2,356.3 244.7,352.2 248.1,347.9 251.6,343.8 255.1,339.8 258.6,336.1 262.1,333.0 265.5,330.5 269.0,328.7 272.5,327.8 276.0,327.6 279.5,328.1 282.9,329.1 286.4,330.7 289.9,332.6 293.4,335.0 296.9,337.7 300.3,340.7 303.8,343.9 307.3,347.2 310.8,350.6 314.3,353.9 317.7,357.2 321.2,360.3 324.7,363.3 328.2,366.0 331.7,368.5 335.1,370.8 338.6,372.9 342.1,374.7 345.6,376.3 349.1,377.6 352.5,378.8 356.0,379.7 359.5,380.5 363.0,381.2 366.5,381.7 369.9,382.2 373.4,382.5 376.9,382.8 380.4,383.0 383.8,383.1 387.3,383.3 390.8,383.4 394.3,383.4 397.8,383.5 401.2,383.5 404.7,383.5 408.2,383.6 411.7,383.6 415.2,383.6 418.6,383.6 422.1,383.6 425.6,383.6 429.1,383.6 432.6,383.6 436.0,383.6 439.5,383.6 443.0,383.6 446.5,383.6 450.0,383.6 453.4,383.6 456.9,383.6 460.4,383.6 463.9,383.6 467.4,383.6 470.8,383.6 474.3,383.6 477.8,383.6 481.3,383.6 484.8,383.6 488.2,383.6 491.7,383.6 495.2,383.6 498.7,383.6 502.1,383.6 505.6,383.6 509.1,383.6 512.6,383.6 516.1,383.6 519.5,383.6 523.0,383.6 526.5,383.6 530.0,383.6 533.5,383.6 536.9,383.6 540.4,383.6 543.9,383.6 547.4,383.6 550.9,383.6 554.3,383.6 557.8,383.6 561.3,383.6 564.8,383.6 568.3,383.6 571.7,383.6 575.2,383.6 578.7,383.6 582.2,383.6 585.7,383.6 589.1,383.6 592.6,383.6 596.1,383.6 599.6,383.6 603.1,383.6 606.5,383.6 610.0,383.6 613.5,383.6 617.0,383.6 620.4,383.6 623.9,383.6 627.4,383.6 630.9,383.6 634.4,383.6 637.8,383.6 641.3,383.6 644.8,383.6" stroke="#EDB120"/><polyline points="88.1,383.6 91.6,383.6 95.1,383.6 98.5,383.6 102.0,383.6 105.5,383.6 109.0,383.6 112.5,383.6 115.9,383.6 119.4,383.6 122.9,383.6 126.4,383.6 129.8,383.6 133.3,383.6 136.8,383.6 140.3,383.6 143.8,383.6 147.2,383.6 150.7,383.6 154.2,383.6 157.7,383.6 161.2,383.6 164.6,383.6 168.1,383.5 171.6,383.5 175.1,383.5 178.6,383.4 182.0,383.3 185.5,383.2 189.0,383.0 192.5,382.7 196.0,382.3 199.4,381.9 202.9,381.2 206.4,380.4 209.9,379.4 213.4,378.2 216.8,376.7 220.3,374.9 223.8,372.7 227.3,370.2 230.8,367.4 234.2,364.3 237.7,360.8 241.2,357.2 244.7,353.4 248.1,349.5 251.6,345.7 255.1,342.0 258.6,338.6 262.1,335.7 265.5,333.2 269.0,331.4 272.5,330.3 276.0,329.9 279.5,330.2 282.9,330.9 286.4,332.1 289.9,333.7 293.4,335.8 296.9,338.2 300.3,340.8 303.8,343.7 307.3,346.7 310.8,349.8 314.3,352.9 317.7,356.0 321.2,359.0 324.7,361.9 328.2,364.6 331.7,367.2 335.1,369.5 338.6,371.6 342.1,373.5 345.6,375.2 349.1,376.6 352.5,377.9 356.0,378.9 359.5,379.9 363.0,380.6 366.5,381.2 369.9,381.8 373.4,382.2 376.9,382.5 380.4,382.8 383.8,383.0 387.3,383.1 390.8,383.3 394.3,383.3 397.8,383.4 401.2,383.5 404.7,383.5 408.2,383.5 411.7,383.6 415.2,383.6 418.6,383.6 422.1,383.6 425.6,383.6 429.1,383.6 432.6,383.6 436.0,383.6 439.5,383.6 443.0,383.6 446.5,383.6 450.0,383.6 453.4,383.6 456.9,383.6 460.4,383.6 463.9,383.6 467.4,383.6 470.8,383.6 474.3,383.6 477.8,383.6 481.3,383.6 484.8,383.6 488.2,383.6 491.7,383.6 495.2,383.6 498.7,383.6 502.1,383.6 505.6,383.6 509.1,383.6 512.6,383.6 516.1,383.6 519.5,383.6 523.0,383.6 526.5,383.6 530.0,383.6 533.5,383.6 536.9,383.6 540.4,383.6 543.9,383.6 547.4,383.6 550.9,383.6 554.3,383.6 557.8,383.6 561.3,383.6 564.8,383.6 568.3,383.6 571.7,383.6 575.2,383.6 578.7,383.6 582.2,383.6 585.7,383.6 589.1,383.6 592.6,383.6 596.1,383.6 599.6,383.6 603.1,383.6 606.5,383.6 610.0,383.6 613.5,383.6 617.0,383.6 620.4,383.6 623.9,383.6 627.4,383.6 630.9,383.6 634.4,383.6 637.8,383.6 641.3,383.6 644.8,383.6" stroke="#77AC30"/><polyline points="88.1,383.6 91.6,383.6 95.1,383.6 98.5,383.6 102.0,383.6 105.5,383.6 109.0,383.6 112.5,383.6 115.9,383.6 119.4,383.6 122.9,383.6 126.4,383.6 129.8,383.6 133.3,383.6 136.8,383.6 140.3,383.6 143.8,383.6 147.2,383.6 150.7,383.6 154.2,383.6 157.7,383.5 161.2,383.5 164.6,383.5 168.1,383.4 171.6,383.4 175.1,383.3 178.6,383.2 182.0,383.1 185.5,382.9 189.0,382.7 192.5,382.4 196.0,382.1 199.4,381.7 202.9,381.2 206.4,380.6 209.9,379.9 213.4,379.0 216.8,378.0 220.3,376.9 223.8,375.5 227.3,374.0 230.8,372.2 234.2,370.3 237.7,368.2 241.2,365.8 244.7,363.3 248.1,360.7 251.6,357.9 255.1,355.0 258.6,352.0 262.1,349.0 265.5,346.1 269.0,343.3 272.5,340.6 276.0,338.1 279.5,335.9 282.9,334.0 286.4,332.5 289.9,331.3 293.4,330.6 296.9,330.3 300.3,330.6 303.8,331.5 307.3,333.0 310.8,335.0 314.3,337.6 317.7,340.5 321.2,343.7 324.7,347.2 328.2,350.7 331.7,354.3 335.1,357.8 338.6,361.1 342.1,364.3 345.6,367.2 349.1,369.9 352.5,372.2 356.0,374.3 359.5,376.1 363.0,377.6 366.5,378.9 369.9,379.9 373.4,380.8 376.9,381.4 380.4,382.0 383.8,382.4 387.3,382.7 390.8,383.0 394.3,383.1 397.8,383.3 401.2,383.4 404.7,383.4 408.2,383.5 411.7,383.5 415.2,383.6 418.6,383.6 422.1,383.6 425.6,383.6 429.1,383.6 432.6,383.6 436.0,383.6 439.5,383.6 443.0,383.6 446.5,383.6 450.0,383.6 453.4,383.6 456.9,383.6 460.4,383.6 463.9,383.6 467.4,383.6 470.8,383.6 474.3,383.6 477.8,383.6 481.3,383.6 484.8,383.6 488.2,383.6 491.7,383.6 495.2,383.6 498.7,383.6 502.1,383.6 505.6,383.6 509.1,383.6 512.6,383.6 516.1,383.6 519.5,383.6 523.0,383.6 526.5,383.6 530.0,383.6 533.5,383.6 536.9,383.6 540.4,383.6 543.9,383.6 547.4,383.6 550.9,383.6 554.3,383.6 557.8,383.6 561.3,383.6 564.8,383.6 568.3,383.6 571.7,383.6 575.2,383.6 578.7,383.6 582.2,383.6 585.7,383.6 589.1,383.6 592.6,383.6 596.1,383.6 599.6,383.6 603.1,383.6 606.5,383.6 610.0,383.6 613.5,383.6 617.0,383.6 620.4,383.6 623.9,383.6 627.4,383.6 630.9,383.6 634.4,383.6 637.8,383.6 641.3,383.6 644.8,383.6" stroke="#A2142F"/><polyline points="88.1,383.6 91.6,383.6 95.1,383.6 98.5,383.6 102.0,383.6 105.5,383.6 109.0,383.6 112.5,383.6 115.9,383.6 119.4,383.6 122.9,383.6 126.4,383.6 129.8,383.6 133.3,383.6 136.8,383.6 140.3,383.6 143.8,383.6 147.2,383.6 150.7,383.6 154.2,383.6 157.7,383.6 161.2,383.6 164.6,383.6 168.1,383.6 171.6,383.6 175.1,383.6 178.6,383.6 182.0,383.6 185.5,383.6 189.0,383.6 192.5,383.6 196.0,383.5 199.4,383.5 202.9,383.5 206.4,383.4 209.9,383.3 213.4,383.2 216.8,383.1 220.3,382.9 223.8,382.7 227.3,382.4 230.8,382.1 234.2,381.6 237.7,381.1 241.2,380.4 244.7,379.5 248.1,378.5 251.6,377.3 255.1,375.9 258.6,374.3 262.1,372.5 265.5,370.4 269.0,368.1 272.5,365.5 276.0,362.8 279.5,359.9 282.9,356.9 286.4,353.7 289.9,350.5 293.4,347.4 296.9,344.3 300.3,341.4 303.8,338.8 307.3,336.5 310.8,334.5 314.3,332.9 317.7,331.9 321.2,331.3 324.7,331.2 328.2,331.7 331.7,332.8 335.1,334.4 338.6,336.4 342.1,338.9 345.6,341.6 349.1,344.7 352.5,347.9 356.0,351.1 359.5,354.5 363.0,357.7 366.5,360.8 369.9,363.8 373.4,366.6 376.9,369.1 380.4,371.4 383.8,373.5 387.3,375.2 390.8,376.8 394.3,378.1 397.8,379.2 401.2,380.2 404.7,380.9 408.2,381.5 411.7,382.0 415.2,382.4 418.6,382.7 422.1,382.9 425.6,383.1 429.1,383.3 432.6,383.4 436.0,383.4 439.5,383.5 443.0,383.5 446.5,383.5 450.0,383.6 453.4,383.6 456.9,383.6 460.4,383.6 463.9,383.6 467.4,383.6 470.8,383.6 474.3,383.6 477.8,383.6 481.3,383.6 484.8,383.6 488.2,383.6 491.7,383.6 495.2,383.6 498.7,383.6 502.1,383.6 505.6,383.6 509.1,383.6 512.6,383.6 516.1,383.6 519.5,383.6 523.0,383.6 526.5,383.6 530.0,383.6 533.5,383.6 536.9,383.6 540.4,383.6 543.9,383.6 547.4,383.6 550.9,383.6 554.3,383.6 557.8,383.6 561.3,383.6 564.8,383.6 568.3,383.6 571.7,383.6 575.2,383.6 578.7,383.6 582.2,383.6 585.7,383.6 589.1,383.6 592.6,383.6 596.1,383.6 599.6,383.6 603.1,383.6 606.5,383.6 610.0,383.6 613.5,383.6 617.0,383.6 620.4,383.6 623.9,383.6 627.4,383.6 630.9,383.6 634.4,383.6 637.8,383.6 641.3,383.6 644.8,383.6" stroke="#A2142F"/><polyline points="88.1,383.6 91.6,383.6 95.1,383.6 98.5,383.6 102.0,383.6 105.5,383.6 109.0,383.6 112.5,383.6 115.9,383.6 119.4,383.6 122.9,383.6 126.4,383.6 129.8,383.6 133.3,383.6 136.8,383.6 140.3,383.6 143.8,383.6 147.2,383.6 150.7,383.6 154.2,383.6 157.7,383.6 161.2,383.6 164.6,383.6 168.1,383.6 171.6,383.6 175.1,383.6 178.6,383.6 182.0,383.6 185.5,383.6 189.0,383.6 192.5,383.6 196.0,383.6 199.4,383.5 202.9,383.5 206.4,383.5 209.9,383.4 213.4,383.4 216.8,383.3 220.3,383.2 223.8,383.0 227.3,382.8 230.8,382.6 234.2,382.3 237.7,381.9 241.2,381.4 244.7,380.7 248.1,380.0 251.6,379.1 255.1,378.0 258.6,376.7 262.1,375.2 265.5,373.5 269.0,371.5 272.5,369.4 276.0,367.0 279.5,364.4 282.9,361.6 286.4,358.7 289.9,355.7 293.4,352.6 296.9,349.5 300.3,346.5 303.8,343.6 307.3,340.9 310.8,338.5 314.3,336.4 317.7,334.7 321.2,333.5 324.7,332.7 328.2,332.5 331.7,332.7 335.1,333.5 338.6,334.7 342.1,336.4 345.6,338.5 349.1,340.9 352.5,343.6 356.0,346.5 359.5,349.5 363.0,352.6 366.5,355.7 369.9,358.7 373.4,361.6 376.9,364.4 380.4,367.0 383.8,369.4 387.3,371.5 390.8,373.5 394.3,375.2 397.8,376.7 401.2,378.0 404.7,379.1 408.2,380.0 411.7,380.7 415.2,381.4 418.6,381.9 422.1,382.3 425.6,382.6 429.1,382.8 432.6,383.0 436.0,383.2 439.5,383.3 443.0,383.4 446.5,383.4 450.0,383.5 453.4,383.5 456.9,383.5 460.4,383.6 463.9,383.6 467.4,383.6 470.8,383.6 474.3,383.6 477.8,383.6 481.3,383.6 484.8,383.6 488.2,383.6 491.7,383.6 495.2,383.6 498.7,383.6 502.1,383.6 505.6,383.6 509.1,383.6 512.6,383.6 516.1,383.6 519.5,383.6 523.0,383.6 526.5,383.6 530.0,383.6 533.5,383.6 536.9,383.6 540.4,383.6 543.9,383.6 547.4,383.6 550.9,383.6 554.3,383.6 557.8,383.6 561.3,383.6 564.8,383.6 568.3,383.6 571.7,383.6 575.2,383.6 578.7,383.6 582.2,383.6 585.7,383.6 589.1,383.6 592.6,383.6 596.1,383.6 599.6,383.6 603.1,383.6 606.5,383.6 610.0,383.6 613.5,383.6 617.0,383.6 620.4,383.6 623.9,383.6 627.4,383.6 630.9,383.6 634.4,383.6 637.8,383.6 641.3,383.6 644.8,383.6" stroke="#7E2F8E"/><polyline points="88.1,383.6 91.6,383.6 95.1,383.6 98.5,383.6 102.0,383.6 105.5,383.6 109.0,383.6 112.5,383.6 115.9,383.6 119.4,383.6 122.9,383.6 126.4,383.6 129.8,383.6 133.3,383.6 136.8,383.6 140.3,383.6 143.8,383.6 147.2,383.6 150.7,383.6 154.2,383.6 157.7,383.6 161.2,383.6 164.6,383.6 168.1,383.6 171.6,383.6 175.1,383.6 178.6,383.6 182.0,383.6 185.5,383.6 189.0,383.6 192.5,383.6 196.0,383.6 199.4,383.6 202.9,383.5 206.4,383.5 209.9,383.5 213.4,383.5 216.8,383.4 220.3,383.3 223.8,383.2 227.3,383.1 230.8,382.9 234.2,382.6 237.7,382.3 241.2,381.9 244.7,381.4 248.1,380.8 251.6,380.1 255.1,379.2 258.6,378.1 262.1,376.9 265.5,375.4 269.0,373.8 272.5,371.9 276.0,369.7 279.5,367.4 282.9,364.8 286.4,362.0 289.9,359.1 293.4,356.1 296.9,352.9 300.3,349.8 303.8,346.8 307.3,343.8 310.8,341.1 314.3,338.6 317.7,336.4 321.2,334.6 324.7,333.3 328.2,332.4 331.7,332.0 335.1,332.2 338.6,332.9 342.1,334.0 345.6,335.6 349.1,337.6 352.5,340.0 356.0,342.7 359.5,345.6 363.0,348.6 366.5,351.7 369.9,354.8 373.4,357.9 376.9,360.9 380.4,363.7 383.8,366.4 387.3,368.8 390.8,371.0 394.3,373.0 397.8,374.8 401.2,376.3 404.7,377.7 408.2,378.8 411.7,379.8 415.2,380.6 418.6,381.2 422.1,381.8 425.6,382.2 429.1,382.5 432.6,382.8 436.0,383.0 439.5,383.2 443.0,383.3 446.5,383.4 450.0,383.4 453.4,383.5 456.9,383.5 460.4,383.5 463.9,383.6 467.4,383.6 470.8,383.6 474.3,383.6 477.8,383.6 481.3,383.6 484.8,383.6 488.2,383.6 491.7,383.6 495.2,383.6 498.7,383.6 502.1,383.6 505.6,383.6 509.1,383.6 512.6,383.6 516.1,383.6 519.5,383.6 523.0,383.6 526.5,383.6 530.0,383.6 533.5,383.6 536.9,383.6 540.4,383.6 543.9,383.6 547.4,383.6 550.9,383.6 554.3,383.6 557.8,383.6 561.3,383.6 564.8,383.6 568.3,383.6 571.7,383.6 575.2,383.6 578.7,383.6 582.2,383.6 585.7,383.6 589.1,383.6 592.6,383.6 596.1,383.6 599.6,383.6 603.1,383.6 606.5,383.6 610.0,383.6 613.5,383.6 617.0,383.6 620.4,383.6 623.9,383.6 627.4,383.6 630.9,383.6 634.4,383.6 637.8,383.6 641.3,383.6 644.8,383.6" stroke="#4DBEEE"/><polyline points="88.1,383.6 91.6,383.6 95.1,383.6 98.5,383.6 102.0,383.6 105.5,383.6 109.0,383.6 112.5,383.6 115.9,383.6 119.4,383.6 122.9,383.6 126.4,383.6 129.8,383.6 133.3,383.6 136.8,383.6 140.3,383.6 143.8,383.6 147.2,383.6 150.7,383.6 154.2,383.6 157.7,383.6 161.2,383.6 164.6,383.6 168.1,383.6 171.6,383.6 175.1,383.6 178.6,383.6 182.0,383.6 185.5,383.6 189.0,383.6 192.5,383.6 196.0,383.6 199.4,383.6 202.9,383.6 206.4,383.6 209.9,383.6 213.4,383.5 216.8,383.5 220.3,383.5 223.8,383.5 227.3,383.4 230.8,383.3 234.2,383.2 237.7,383.1 241.2,382.9 244.7,382.6 248.1,382.3 251.6,381.9 255.1,381.4 258.6,380.8 262.1,380.1 265.5,379.2 269.0,378.1 272.5,376.9 276.0,375.4 279.5,373.8 282.9,371.9 286.4,369.7 289.9,367.4 293.4,364.8 296.9,362.0 300.3,359.1 303.8,356.1 307.3,352.9 310.8,349.8 314.3,346.8 317.7,343.8 321.2,341.1 324.7,338.6 328.2,336.4 331.7,334.6 335.1,333.3 338.6,332.4 342.1,332.0 345.6,332.2 349.1,332.9 352.5,334.2 356.0,335.9 359.5,338.1 363.0,340.6 366.5,343.5 369.9,346.5 373.4,349.7 376.9,353.0 380.4,356.2 383.8,359.4 387.3,362.4 390.8,365.2 394.3,367.9 397.8,370.3 401.2,372.4 404.7,374.4 408.2,376.0 411.7,377.5 415.2,378.7 418.6,379.7 422.1,380.5 425.6,381.2 429.1,381.8 432.6,382.2 436.0,382.6 439.5,382.8 443.0,383.0 446.5,383.2 450.0,383.3 453.4,383.4 456.9,383.4 460.4,383.5 463.9,383.5 467.4,383.6 470.8,383.6 474.3,383.6 477.8,383.6 481.3,383.6 484.8,383.6 488.2,383.6 491.7,383.6 495.2,383.6 498.7,383.6 502.1,383.6 505.6,383.6 509.1,383.6 512.6,383.6 516.1,383.6 519.5,383.6 523.0,383.6 526.5,383.6 530.0,383.6 533.5,383.6 536.9,383.6 540.4,383.6 543.9,383.6 547.4,383.6 550.9,383.6 554.3,383.6 557.8,383.6 561.3,383.6 564.8,383.6 568.3,383.6 571.7,383.6 575.2,383.6 578.7,383.6 582.2,383.6 585.7,383.6 589.1,383.6 592.6,383.6 596.1,383.6 599.6,383.6 603.1,383.6 606.5,383.6 610.0,383.6 613.5,383.6 617.0,383.6 620.4,383.6 623.9,383.6 627.4,383.6 630.9,383.6 634.4,383.6 637.8,383.6 641.3,383.6 644.8,383.6" stroke="#0072BD"/><polyline points="88.1,383.6 91.6,383.6 95.1,383.6 98.5,383.6 102.0,383.6 105.5,383.6 109.0,383.6 112.5,383.6 115.9,383.6 119.4,383.6 122.9,383.6 126.4,383.6 129.8,383.6 133.3,383.6 136.8,383.6 140.3,383.6 143.8,383.6 147.2,383.6 150.7,383.6 154.2,383.6 157.7,383.6 161.2,383.6 164.6,383.6 168.1,383.6 171.6,383.6 175.1,383.6 178.6,383.6 182.0,383.6 185.5,383.6 189.0,383.6 192.5,383.6 196.0,383.6 199.4,383.6 202.9,383.6 206.4,383.6 209.9,383.6 213.4,383.6 216.8,383.5 220.3,383.5 223.8,383.5 227.3,383.4 230.8,383.4 234.2,383.3 237.7,383.2 241.2,383.0 244.7,382.8 248.1,382.6 251.6,382.3 255.1,382.0 258.6,381.6 262.1,381.0 265.5,380.4 269.0,379.7 272.5,378.8 276.0,377.7 279.5,376.5 282.9,375.1 286.4,373.6 289.9,371.8 293.4,369.9 296.9,367.7 300.3,365.4 303.8,362.9 307.3,360.3 310.8,357.5 314.3,354.6 317.7,351.7 321.2,348.8 324.7,346.0 328.2,343.2 331.7,340.6 335.1,338.2 338.6,336.1 342.1,334.2 345.6,332.8 349.1,331.7 352.5,331.0 356.0,330.8 359.5,331.0 363.0,331.6 366.5,332.7 369.9,334.3 373.4,336.1 376.9,338.4 380.4,340.9 383.8,343.6 387.3,346.4 390.8,349.4 394.3,352.4 397.8,355.4 401.2,358.3 404.7,361.1 408.2,363.8 411.7,366.3 415.2,368.7 418.6,370.8 422.1,372.7 425.6,374.4 429.1,375.9 432.6,377.2 436.0,378.4 439.5,379.4 443.0,380.2 446.5,380.9 450.0,381.4 453.4,381.9 456.9,382.3 460.4,382.6 463.9,382.8 467.4,383.0 470.8,383.2 474.3,383.3 477.8,383.4 481.3,383.4 484.8,383.5 488.2,383.5 491.7,383.5 495.2,383.6 498.7,383.6 502.1,383.6 505.6,383.6 509.1,383.6 512.6,383.6 516.1,383.6 519.5,383.6 523.0,383.6 526.5,383.6 530.0,383.6 533.5,383.6 536.9,383.6 540.4,383.6 543.9,383.6 547.4,383.6 550.9,383.6 554.3,383.6 557.8,383.6 561.3,383.6 564.8,383.6 568.3,383.6 571.7,383.6 575.2,383.6 578.7,383.6 582.2,383.6 585.7,383.6 589.1,383.6 592.6,383.6 596.1,383.6 599.6,383.6 603.1,383.6 606.5,383.6 610.0,383.6 613.5,383.6 617.0,383.6 620.4,383.6 623.9,383.6 627.4,383.6 630.9,383.6 634.4,383.6 637.8,383.6 641.3,383.6 644.8,383.6" stroke="#D95319"/><polyline points="88.1,383.6 91.6,383.6 95.1,383.6 98.5,383.6 102.0,383.6 105.5,383.6 109.0,383.6 112.5,383.6 115.9,383.6 119.4,383.6 122.9,383.6 126.4,383.6 129.8,383.6 133.3,383.6 136.8,383.6 140.3,383.6 143.8,383.6 147.2,383.6 150.7,383.6 154.2,383.6 157.7,383.6 161.2,383.6 164.6,383.6 168.1,383.6 171.6,383.6 175.1,383.6 178.6,383.6 182.0,383.6 185.5,383.6 189.0,383.6 192.5,383.6 196.0,383.6 199.4,383.6 202.9,383.6 206.4,383.6 209.9,383.6 213.4,383.6 216.8,383.6 220.3,383.6 223.8,383.6 227.3,383.6 230.8,383.5 234.2,383.5 237.7,383.5 241.2,383.4 244.7,383.4 248.1,383.3 251.6,383.3 255.1,383.1 258.6,383.0 262.1,382.8 265.5,382.6 269.0,382.4 272.5,382.1 276.0,381.7 279.5,381.3 282.9,380.7 286.4,380.1 289.9,379.3 293.4,378.5 296.9,377.4 300.3,376.3 303.8,375.0 307.3,373.5 310.8,371.8 314.3,370.0 317.7,368.0 321.2,365.8 324.7,363.5 328.2,361.0 331.7,358.3 335.1,355.6 338.6,352.8 342.1,349.9 345.6,347.0 349.1,344.2 352.5,341.4 356.0,338.7 359.5,336.2 363.0,333.9 366.5,331.9 369.9,330.1 373.4,328.7 376.9,327.6 380.4,326.9 383.8,326.6 387.3,326.7 390.8,327.7 394.3,329.5 397.8,332.0 401.2,335.1 404.7,338.7 408.2,342.7 411.7,346.8 415.2,351.0 418.6,355.2 422.1,359.2 425.6,362.9 429.1,366.3 432.6,369.4 436.0,372.1 439.5,374.4 443.0,376.4 446.5,378.0 450.0,379.3 453.4,380.4 456.9,381.2 460.4,381.9 463.9,382.4 467.4,382.7 470.8,383.0 474.3,383.2 477.8,383.3 481.3,383.4 484.8,383.5 488.2,383.5 491.7,383.5 495.2,383.6 498.7,383.6 502.1,383.6 505.6,383.6 509.1,383.6 512.6,383.6 516.1,383.6 519.5,383.6 523.0,383.6 526.5,383.6 530.0,383.6 533.5,383.6 536.9,383.6 540.4,383.6 543.9,383.6 547.4,383.6 550.9,383.6 554.3,383.6 557.8,383.6 561.3,383.6 564.8,383.6 568.3,383.6 571.7,383.6 575.2,383.6 578.7,383.6 582.2,383.6 585.7,383.6 589.1,383.6 592.6,383.6 596.1,383.6 599.6,383.6 603.1,383.6 606.5,383.6 610.0,383.6 613.5,383.6 617.0,383.6 620.4,383.6 623.9,383.6 627.4,383.6 630.9,383.6 634.4,383.6 637.8,383.6 641.3,383.6 644.8,383.6" stroke="#7E2F8E"/><polyline points="88.1,383.6 91.6,383.6 95.1,383.6 98.5,383.6 102.0,383.6 105.5,383.6 109.0,383.6 112.5,383.6 115.9,383.6 119.4,383.6 122.9,383.6 126.4,383.6 129.8,383.6 133.3,383.6 136.8,383.6 140.3,383.6 143.8,383.6 147.2,383.6 150.7,383.6 154.2,383.6 157.7,383.6 161.2,383.6 164.6,383.6 168.1,383.6 171.6,383.6 175.1,383.6 178.6,383.6 182.0,383.6 185.5,383.6 189.0,383.6 192.5,383.6 196.0,383.6 199.4,383.6 202.9,383.6 206.4,383.6 209.9,383.6 213.4,383.6 216.8,383.6 220.3,383.6 223.8,383.6 227.3,383.6 230.8,383.6 234.2,383.6 237.7,383.6 241.2,383.6 244.7,383.6 248.1,383.6 251.6,383.6 255.1,383.6 258.6,383.6 262.1,383.6 265.5,383.6 269.0,383.6 272.5,383.6 276.0,383.6 279.5,383.6 282.9,383.5 286.4,383.5 289.9,383.5 293.4,383.4 296.9,383.3 300.3,383.2 303.8,383.0 307.3,382.8 310.8,382.5 314.3,382.1 317.7,381.6 321.2,380.9 324.7,380.1 328.2,379.1 331.7,377.8 335.1,376.3 338.6,374.5 342.1,372.4 345.6,369.9 349.1,367.1 352.5,364.1 356.0,360.7 359.5,357.1 363.0,353.2 366.5,349.3 369.9,345.3 373.4,341.4 376.9,337.6 380.4,334.2 383.8,331.1 387.3,328.5 390.8,326.5 394.3,325.1 397.8,324.5 401.2,324.6 404.7,325.6 408.2,327.5 411.7,330.1 415.2,333.4 418.6,337.3 422.1,341.5 425.6,345.9 429.1,350.4 432.6,354.8 436.0,359.0 439.5,362.9 443.0,366.5 446.5,369.7 450.0,372.4 453.4,374.8 456.9,376.7 460.4,378.3 463.9,379.6 467.4,380.7 470.8,381.5 474.3,382.1 477.8,382.5 481.3,382.8 484.8,383.1 488.2,383.2 491.7,383.4 495.2,383.4 498.7,383.5 502.1,383.5 505.6,383.6 509.1,383.6 512.6,383.6 516.1,383.6 519.5,383.6 523.0,383.6 526.5,383.6 530.0,383.6 533.5,383.6 536.9,383.6 540.4,383.6 543.9,383.6 547.4,383.6 550.9,383.6 554.3,383.6 557.8,383.6 561.3,383.6 564.8,383.6 568.3,383.6 571.7,383.6 575.2,383.6 578.7,383.6 582.2,383.6 585.7,383.6 589.1,383.6 592.6,383.6 596.1,383.6 599.6,383.6 603.1,383.6 606.5,383.6 610.0,383.6 613.5,383.6 617.0,383.6 620.4,383.6 623.9,383.6 627.4,383.6 630.9,383.6 634.4,383.6 637.8,383.6 641.3,383.6 644.8,383.6" stroke="#EDB120"/><polyline points="88.1,383.6 91.6,383.6 95.1,383.6 98.5,383.6 102.0,383.6 105.5,383.6 109.0,383.6 112.5,383.6 115.9,383.6 119.4,383.6 122.9,383.6 126.4,383.6 129.8,383.6 133.3,383.6 136.8,383.6 140.3,383.6 143.8,383.6 147.2,383.6 150.7,383.6 154.2,383.6 157.7,383.6 161.2,383.6 164.6,383.6 168.1,383.6 171.6,383.6 175.1,383.6 178.6,383.6 182.0,383.6 185.5,383.6 189.0,383.6 192.5,383.6 196.0,383.6 199.4,383.6 202.9,383.6 206.4,383.6 209.9,383.6 213.4,383.6 216.8,383.6 220.3,383.6 223.8,383.6 227.3,383.6 230.8,383.6 234.2,383.6 237.7,383.6 241.2,383.6 244.7,383.6 248.1,383.6 251.6,383.6 255.1,383.6 258.6,383.6 262.1,383.6 265.5,383.6 269.0,383.6 272.5,383.6 276.0,383.6 279.5,383.6 282.9,383.5 286.4,383.5 289.9,383.5 293.4,383.4 296.9,383.3 300.3,383.2 303.8,383.0 307.3,382.8 310.8,382.5 314.3,382.1 317.7,381.6 321.2,381.0 324.7,380.2 328.2,379.2 331.7,377.9 335.1,376.4 338.6,374.7 342.1,372.6 345.6,370.2 349.1,367.5 352.5,364.5 356.0,361.2 359.5,357.6 363.0,353.9 366.5,350.0 369.9,346.1 373.4,342.3 376.9,338.6 380.4,335.2 383.8,332.2 387.3,329.7 390.8,327.7 394.3,326.4 397.8,325.8 401.2,325.9 404.7,326.8 408.2,328.7 411.7,331.3 415.2,334.5 418.6,338.3 422.1,342.4 425.6,346.7 429.1,351.1 432.6,355.4 436.0,359.5 439.5,363.4 443.0,366.8 446.5,369.9 450.0,372.6 453.4,374.9 456.9,376.9 460.4,378.5 463.9,379.7 467.4,380.7 470.8,381.5 474.3,382.1 477.8,382.5 481.3,382.9 484.8,383.1 488.2,383.3 491.7,383.4 495.2,383.4 498.7,383.5 502.1,383.5 505.6,383.6 509.1,383.6 512.6,383.6 516.1,383.6 519.5,383.6 523.0,383.6 526.5,383.6 530.0,383.6 533.5,383.6 536.9,383.6 540.4,383.6 543.9,383.6 547.4,383.6 550.9,383.6 554.3,383.6 557.8,383.6 561.3,383.6 564.8,383.6 568.3,383.6 571.7,383.6 575.2,383.6 578.7,383.6 582.2,383.6 585.7,383.6 589.1,383.6 592.6,383.6 596.1,383.6 599.6,383.6 603.1,383.6 606.5,383.6 610.0,383.6 613.5,383.6 617.0,383.6 620.4,383.6 623.9,383.6 627.4,383.6 630.9,383.6 634.4,383.6 637.8,383.6 641.3,383.6 644.8,383.6" stroke="#77AC30"/><polyline points="88.1,383.6 91.6,383.6 95.1,383.6 98.5,383.6 102.0,383.6 105.5,383.6 109.0,383.6 112.5,383.6 115.9,383.6 119.4,383.6 122.9,383.6 126.4,383.6 129.8,383.6 133.3,383.6 136.8,383.6 140.3,383.6 143.8,383.6 147.2,383.6 150.7,383.6 154.2,383.6 157.7,383.6 161.2,383.6 164.6,383.6 168.1,383.6 171.6,383.6 175.1,383.6 178.6,383.6 182.0,383.6 185.5,383.6 189.0,383.6 192.5,383.6 196.0,383.6 199.4,383.6 202.9,383.6 206.4,383.6 209.9,383.6 213.4,383.6 216.8,383.6 220.3,383.6 223.8,383.6 227.3,383.6 230.8,383.6 234.2,383.6 237.7,383.6 241.2,383.6 244.7,383.6 248.1,383.6 251.6,383.6 255.1,383.6 258.6,383.6 262.1,383.6 265.5,383.6 269.0,383.6 272.5,383.6 276.0,383.6 279.5,383.6 282.9,383.6 286.4,383.6 289.9,383.6 293.4,383.6 296.9,383.5 300.3,383.5 303.8,383.4 307.3,383.4 310.8,383.2 314.3,383.1 317.7,382.8 321.2,382.5 324.7,382.1 328.2,381.5 331.7,380.7 335.1,379.7 338.6,378.4 342.1,376.8 345.6,374.9 349.1,372.6 352.5,369.9 356.0,366.7 359.5,363.2 363.0,359.3 366.5,355.1 369.9,350.6 373.4,346.1 376.9,341.5 380.4,337.1 383.8,333.1 387.3,329.5 390.8,326.5 394.3,324.3 397.8,322.9 401.2,322.5 404.7,323.0 408.2,324.4 411.7,326.7 415.2,329.8 418.6,333.6 422.1,337.8 425.6,342.3 429.1,347.0 432.6,351.7 436.0,356.2 439.5,360.4 443.0,364.3 446.5,367.8 450.0,370.9 453.4,373.5 456.9,375.7 460.4,377.6 463.9,379.0 467.4,380.2 470.8,381.1 474.3,381.8 477.8,382.3 481.3,382.7 484.8,383.0 488.2,383.2 491.7,383.3 495.2,383.4 498.7,383.5 502.1,383.5 505.6,383.6 509.1,383.6 512.6,383.6 516.1,383.6 519.5,383.6 523.0,383.6 526.5,383.6 530.0,383.6 533.5,383.6 536.9,383.6 540.4,383.6 543.9,383.6 547.4,383.6 550.9,383.6 554.3,383.6 557.8,383.6 561.3,383.6 564.8,383.6 568.3,383.6 571.7,383.6 575.2,383.6 578.7,383.6 582.2,383.6 585.7,383.6 589.1,383.6 592.6,383.6 596.1,383.6 599.6,383.6 603.1,383.6 606.5,383.6 610.0,383.6 613.5,383.6 617.0,383.6 620.4,383.6 623.9,383.6 627.4,383.6 630.9,383.6 634.4,383.6 637.8,383.6 641.3,383.6 644.8,383.6" stroke="#4DBEEE"/><polyline points="88.1,383.6 91.6,383.6 95.1,383.6 98.5,383.6 102.0,383.6 105.5,383.6 109.0,383.6 112.5,383.6 115.9,383.6 119.4,383.6 122.9,383.6 126.4,383.6 129.8,383.6 133.3,383.6 136.8,383.6 140.3,383.6 143.8,383.6 147.2,383.6 150.7,383.6 154.2,383.6 157.7,383.6 161.2,383.6 164.6,383.6 168.1,383.6 171.6,383.6 175.1,383.6 178.6,383.6 182.0,383.6 185.5,383.6 189.0,383.6 192.5,383.6 196.0,383.6 199.4,383.6 202.9,383.6 206.4,383.6 209.9,383.6 213.4,383.6 216.8,383.6 220.3,383.6 223.8,383.6 227.3,383.6 230.8,383.6 234.2,383.6 237.7,383.6 241.2,383.6 244.7,383.6 248.1,383.6 251.6,383.6 255.1,383.6 258.6,383.6 262.1,383.6 265.5,383.6 269.0,383.6 272.5,383.6 276.0,383.6 279.5,383.6 282.9,383.6 286.4,383.6 289.9,383.6 293.4,383.6 296.9,383.6 300.3,383.6 303.8,383.6 307.3,383.6 310.8,383.6 314.3,383.5 317.7,383.5 321.2,383.4 324.7,383.4 328.2,383.2 331.7,383.1 335.1,382.8 338.6,382.5 342.1,382.0 345.6,381.4 349.1,380.6 352.5,379.5 356.0,378.2 359.5,376.4 363.0,374.3 366.5,371.8 369.9,368.7 373.4,365.2 376.9,361.1 380.4,356.5 383.8,351.4 387.3,345.9 390.8,340.1 394.3,334.1 397.8,328.1 401.2,322.2 404.7,316.7 408.2,311.8 411.7,307.6 415.2,304.3 418.6,302.0 422.1,300.9 425.6,301.1 429.1,303.7 432.6,308.5 436.0,315.1 439.5,323.0 443.0,331.6 446.5,340.3 450.0,348.6 453.4,356.2 456.9,362.8 460.4,368.3 463.9,372.6 467.4,376.0 470.8,378.5 474.3,380.3 477.8,381.5 481.3,382.3 484.8,382.8 488.2,383.2 491.7,383.3 495.2,383.5 498.7,383.5 502.1,383.6 505.6,383.6 509.1,383.6 512.6,383.6 516.1,383.6 519.5,383.6 523.0,383.6 526.5,383.6 530.0,383.6 533.5,383.6 536.9,383.6 540.4,383.6 543.9,383.6 547.4,383.6 550.9,383.6 554.3,383.6 557.8,383.6 561.3,383.6 564.8,383.6 568.3,383.6 571.7,383.6 575.2,383.6 578.7,383.6 582.2,383.6 585.7,383.6 589.1,383.6 592.6,383.6 596.1,383.6 599.6,383.6 603.1,383.6 606.5,383.6 610.0,383.6 613.5,383.6 617.0,383.6 620.4,383.6 623.9,383.6 627.4,383.6 630.9,383.6 634.4,383.6 637.8,383.6 641.3,383.6 644.8,383.6" stroke="#0072BD"/><polyline points="88.1,383.6 91.6,383.6 95.1,383.6 98.5,383.6 102.0,383.6 105.5,383.6 109.0,383.6 112.5,383.6 115.9,383.6 119.4,383.6 122.9,383.6 126.4,383.6 129.8,383.6 133.3,383.6 136.8,383.6 140.3,383.6 143.8,383.6 147.2,383.6 150.7,383.6 154.2,383.6 157.7,383.6 161.2,383.6 164.6,383.6 168.1,383.6 171.6,383.6 175.1,383.6 178.6,383.6 182.0,383.6 185.5,383.6 189.0,383.6 192.5,383.6 196.0,383.6 199.4,383.6 202.9,383.6 206.4,383.6 209.9,383.6 213.4,383.6 216.8,383.6 220.3,383.6 223.8,383.6 227.3,383.6 230.8,383.6 234.2,383.6 237.7,383.6 241.2,383.6 244.7,383.6 248.1,383.6 251.6,383.6 255.1,383.6 258.6,383.6 262.1,383.6 265.5,383.6 269.0,383.6 272.5,383.6 276.0,383.6 279.5,383.6 282.9,383.6 286.4,383.6 289.9,383.6 293.4,383.6 296.9,383.6 300.3,383.6 303.8,383.6 307.3,383.6 310.8,383.6 314.3,383.6 317.7,383.6 321.2,383.6 324.7,383.6 328.2,383.6 331.7,383.6 335.1,383.6 338.6,383.6 342.1,383.6 345.6,383.6 349.1,383.6 352.5,383.6 356.0,383.6 359.5,383.6 363.0,383.6 366.5,383.5 369.9,383.4 373.4,383.3 376.9,383.0 380.4,382.6 383.8,382.0 387.3,380.9 390.8,379.3 394.3,377.0 397.8,373.8 401.2,369.4 404.7,363.7 408.2,356.7 411.7,348.4 415.2,338.9 418.6,328.7 422.1,318.3 425.6,308.4 429.1,299.7 432.6,293.1 436.0,289.0 439.5,287.9 443.0,289.6 446.5,293.8 450.0,300.1 453.4,308.1 456.9,317.3 460.4,326.9 463.9,336.4 467.4,345.5 470.8,353.6 474.3,360.6 477.8,366.5 481.3,371.2 484.8,374.9 488.2,377.6 491.7,379.6 495.2,381.0 498.7,382.0 502.1,382.6 505.6,383.0 509.1,383.3 512.6,383.4 516.1,383.5 519.5,383.5 523.0,383.6 526.5,383.6 530.0,383.6 533.5,383.6 536.9,383.6 540.4,383.6 543.9,383.6 547.4,383.6 550.9,383.6 554.3,383.6 557.8,383.6 561.3,383.6 564.8,383.6 568.3,383.6 571.7,383.6 575.2,383.6 578.7,383.6 582.2,383.6 585.7,383.6 589.1,383.6 592.6,383.6 596.1,383.6 599.6,383.6 603.1,383.6 606.5,383.6 610.0,383.6 613.5,383.6 617.0,383.6 620.4,383.6 623.9,383.6 627.4,383.6 630.9,383.6 634.4,383.6 637.8,383.6 641.3,383.6 644.8,383.6" stroke="#A2142F"/><polyline points="88.1,383.6 91.6,383.6 95.1,383.6 98.5,383.6 102.0,383.6 105.5,383.6 109.0,383.6 112.5,383.6 115.9,383.6 119.4,383.6 122.9,383.6 126.4,383.6 129.8,383.6 133.3,383.6 136.8,383.6 140.3,383.6 143.8,383.6 147.2,383.6 150.7,383.6 154.2,383.6 157.7,383.6 161.2,383.6 164.6,383.6 168.1,383.6 171.6,383.6 175.1,383.6 178.6,383.6 182.0,383.6 185.5,383.6 189.0,383.6 192.5,383.6 196.0,383.6 199.4,383.6 202.9,383.6 206.4,383.6 209.9,383.6 213.4,383.6 216.8,383.6 220.3,383.6 223.8,383.6 227.3,383.6 230.8,383.6 234.2,383.6 237.7,383.6 241.2,383.6 244.7,383.6 248.1,383.6 251.6,383.6 255.1,383.6 258.6,383.6 262.1,383.6 265.5,383.6 269.0,383.6 272.5,383.6 276.0,383.6 279.5,383.6 282.9,383.6 286.4,383.6 289.9,383.6 293.4,383.6 296.9,383.6 300.3,383.6 303.8,383.6 307.3,383.6 310.8,383.6 314.3,383.6 317.7,383.6 321.2,383.6 324.7,383.6 328.2,383.6 331.7,383.6 335.1,383.6 338.6,383.6 342.1,383.6 345.6,383.6 349.1,383.6 352.5,383.6 356.0,383.6 359.5,383.6 363.0,383.6 366.5,383.6 369.9,383.6 373.4,383.6 376.9,383.6 380.4,383.6 383.8,383.6 387.3,383.6 390.8,383.6 394.3,383.5 397.8,383.5 401.2,383.4 404.7,383.3 408.2,383.1 411.7,382.8 415.2,382.3 418.6,381.5 422.1,380.4 425.6,378.9 429.1,376.9 432.6,374.2 436.0,370.8 439.5,366.6 443.0,361.7 446.5,356.2 450.0,350.2 453.4,344.1 456.9,338.0 460.4,332.6 463.9,328.0 467.4,324.6 470.8,322.8 474.3,322.5 477.8,323.0 481.3,324.0 484.8,325.4 488.2,327.3 491.7,329.7 495.2,332.3 498.7,335.3 502.1,338.4 505.6,341.8 509.1,345.2 512.6,348.6 516.1,352.0 519.5,355.3 523.0,358.5 526.5,361.5 530.0,364.3 533.5,366.9 536.9,369.3 540.4,371.4 543.9,373.3 547.4,375.0 550.9,376.5 554.3,377.8 557.8,378.8 561.3,379.8 564.8,380.5 568.3,381.2 571.7,381.7 575.2,382.1 578.7,382.4 582.2,382.7 585.7,382.9 589.1,383.1 592.6,383.2 596.1,383.3 599.6,383.4 603.1,383.4 606.5,383.5 610.0,383.5 613.5,383.5 617.0,383.6 620.4,383.6 623.9,383.6 627.4,383.6 630.9,383.6 634.4,383.6 637.8,383.6 641.3,383.6 644.8,383.6" stroke="#0072BD"/><polyline points="88.1,383.6 91.6,383.6 95.1,383.6 98.5,383.6 102.0,383.6 105.5,383.6 109.0,383.6 112.5,383.6 115.9,383.6 119.4,383.6 122.9,383.6 126.4,383.6 129.8,383.6 133.3,383.6 136.8,383.6 140.3,383.6 143.8,383.6 147.2,383.6 150.7,383.6 154.2,383.6 157.7,383.6 161.2,383.6 164.6,383.6 168.1,383.6 171.6,383.6 175.1,383.6 178.6,383.6 182.0,383.6 185.5,383.6 189.0,383.6 192.5,383.6 196.0,383.6 199.4,383.6 202.9,383.6 206.4,383.6 209.9,383.6 213.4,383.6 216.8,383.6 220.3,383.6 223.8,383.6 227.3,383.6 230.8,383.6 234.2,383.6 237.7,383.6 241.2,383.6 244.7,383.6 248.1,383.6 251.6,383.6 255.1,383.6 258.6,383.6 262.1,383.6 265.5,383.6 269.0,383.6 272.5,383.6 276.0,383.6 279.5,383.6 282.9,383.6 286.4,383.6 289.9,383.6 293.4,383.6 296.9,383.6 300.3,383.6 303.8,383.6 307.3,383.6 310.8,383.6 314.3,383.6 317.7,383.6 321.2,383.6 324.7,383.6 328.2,383.6 331.7,383.6 335.1,383.6 338.6,383.6 342.1,383.6 345.6,383.6 349.1,383.6 352.5,383.6 356.0,383.6 359.5,383.6 363.0,383.6 366.5,383.6 369.9,383.6 373.4,383.6 376.9,383.6 380.4,383.6 383.8,383.6 387.3,383.6 390.8,383.6 394.3,383.5 397.8,383.5 401.2,383.4 404.7,383.3 408.2,383.1 411.7,382.8 415.2,382.3 418.6,381.5 422.1,380.4 425.6,378.9 429.1,376.9 432.6,374.2 436.0,370.8 439.5,366.6 443.0,361.7 446.5,356.2 450.0,350.2 453.4,344.1 456.9,338.0 460.4,332.6 463.9,328.0 467.4,324.6 470.8,322.8 474.3,322.5 477.8,323.0 481.3,324.0 484.8,325.4 488.2,327.3 491.7,329.7 495.2,332.3 498.7,335.3 502.1,338.4 505.6,341.8 509.1,345.2 512.6,348.6 516.1,352.0 519.5,355.3 523.0,358.5 526.5,361.5 530.0,364.3 533.5,366.9 536.9,369.3 540.4,371.4 543.9,373.3 547.4,375.0 550.9,376.5 554.3,377.8 557.8,378.8 561.3,379.8 564.8,380.5 568.3,381.2 571.7,381.7 575.2,382.1 578.7,382.4 582.2,382.7 585.7,382.9 589.1,383.1 592.6,383.2 596.1,383.3 599.6,383.4 603.1,383.4 606.5,383.5 610.0,383.5 613.5,383.5 617.0,383.6 620.4,383.6 623.9,383.6 627.4,383.6 630.9,383.6 634.4,383.6 637.8,383.6 641.3,383.6 644.8,383.6" stroke="#A2142F"/><polyline points="88.1,383.6 91.6,383.6 95.1,383.6 98.5,383.6 102.0,383.6 105.5,383.6 109.0,383.6 112.5,383.6 115.9,383.6 119.4,383.6 122.9,383.6 126.4,383.6 129.8,383.6 133.3,383.6 136.8,383.6 140.3,383.6 143.8,383.6 147.2,383.6 150.7,383.6 154.2,383.6 157.7,383.6 161.2,383.6 164.6,383.6 168.1,383.6 171.6,383.6 175.1,383.6 178.6,383.6 182.0,383.6 185.5,383.6 189.0,383.6 192.5,383.6 196.0,383.6 199.4,383.6 202.9,383.6 206.4,383.6 209.9,383.6 213.4,383.6 216.8,383.6 220.3,383.6 223.8,383.6 227.3,383.6 230.8,383.6 234.2,383.6 237.7,383.6 241.2,383.6 244.7,383.6 248.1,383.6 251.6,383.6 255.1,383.6 258.6,383.6 262.1,383.6 265.5,383.6 269.0,383.6 272.5,383.6 276.0,383.6 279.5,383.6 282.9,383.6 286.4,383.6 289.9,383.6 293.4,383.6 296.9,383.6 300.3,383.6 303.8,383.6 307.3,383.6 310.8,383.6 314.3,383.6 317.7,383.6 321.2,383.6 324.7,383.6 328.2,383.6 331.7,383.6 335.1,383.6 338.6,383.6 342.1,383.6 345.6,383.6 349.1,383.6 352.5,383.6 356.0,383.6 359.5,383.6 363.0,383.6 366.5,383.6 369.9,383.6 373.4,383.6 376.9,383.6 380.4,383.6 383.8,383.6 387.3,383.6 390.8,383.6 394.3,383.5 397.8,383.5 401.2,383.4 404.7,383.2 408.2,383.0 411.7,382.7 415.2,382.2 418.6,381.6 422.1,380.6 425.6,379.4 429.1,377.7 432.6,375.5 436.0,372.8 439.5,369.6 443.0,365.8 446.5,361.4 450.0,356.6 453.4,351.6 456.9,346.4 460.4,341.4 463.9,336.8 467.4,332.9 470.8,329.9 474.3,328.0 477.8,327.4 481.3,327.6 484.8,328.3 488.2,329.5 491.7,331.0 495.2,333.0 498.7,335.3 502.1,337.8 505.6,340.6 509.1,343.6 512.6,346.6 516.1,349.8 519.5,352.9 523.0,355.9 526.5,358.9 530.0,361.7 533.5,364.4 536.9,366.9 540.4,369.2 543.9,371.2 547.4,373.1 550.9,374.8 554.3,376.2 557.8,377.5 561.3,378.6 564.8,379.5 568.3,380.3 571.7,381.0 575.2,381.5 578.7,381.9 582.2,382.3 585.7,382.6 589.1,382.8 592.6,383.0 596.1,383.2 599.6,383.3 603.1,383.4 606.5,383.4 610.0,383.5 613.5,383.5 617.0,383.5 620.4,383.6 623.9,383.6 627.4,383.6 630.9,383.6 634.4,383.6 637.8,383.6 641.3,383.6 644.8,383.6" stroke="#D95319"/><polyline points="88.1,383.6 91.6,383.6 95.1,383.6 98.5,383.6 102.0,383.6 105.5,383.6 109.0,383.6 112.5,383.6 115.9,383.6 119.4,383.6 122.9,383.6 126.4,383.6 129.8,383.6 133.3,383.6 136.8,383.6 140.3,383.6 143.8,383.6 147.2,383.6 150.7,383.6 154.2,383.6 157.7,383.6 161.2,383.6 164.6,383.6 168.1,383.6 171.6,383.6 175.1,383.6 178.6,383.6 182.0,383.6 185.5,383.6 189.0,383.6 192.5,383.6 196.0,383.6 199.4,383.6 202.9,383.6 206.4,383.6 209.9,383.6 213.4,383.6 216.8,383.6 220.3,383.6 223.8,383.6 227.3,383.6 230.8,383.6 234.2,383.6 237.7,383.6 241.2,383.6 244.7,383.6 248.1,383.6 251.6,383.6 255.1,383.6 258.6,383.6 262.1,383.6 265.5,383.6 269.0,383.6 272.5,383.6 276.0,383.6 279.5,383.6 282.9,383.6 286.4,383.6 289.9,383.6 293.4,383.6 296.9,383.6 300.3,383.6 303.8,383.6 307.3,383.6 310.8,383.6 314.3,383.6 317.7,383.6 321.2,383.6 324.7,383.6 328.2,383.6 331.7,383.6 335.1,383.6 338.6,383.6 342.1,383.6 345.6,383.6 349.1,383.6 352.5,383.6 356.0,383.6 359.5,383.6 363.0,383.6 366.5,383.6 369.9,383.6 373.4,383.5 376.9,383.5 380.4,383.5 383.8,383.4 387.3,383.4 390.8,383.3 394.3,383.1 397.8,383.0 401.2,382.8 404.7,382.5 408.2,382.2 411.7,381.8 415.2,381.3 418.6,380.7 422.1,379.9 425.6,379.0 429.1,378.0 432.6,376.8 436.0,375.4 439.5,373.8 443.0,372.1 446.5,370.2 450.0,368.1 453.4,365.8 456.9,363.4 460.4,361.0 463.9,358.5 467.4,356.0 470.8,353.5 474.3,351.2 477.8,349.0 481.3,347.0 484.8,345.4 488.2,344.0 491.7,343.0 495.2,342.4 498.7,342.2 502.1,342.3 505.6,342.8 509.1,343.6 512.6,344.7 516.1,346.1 519.5,347.7 523.0,349.5 526.5,351.5 530.0,353.6 533.5,355.8 536.9,358.0 540.4,360.3 543.9,362.5 547.4,364.6 550.9,366.7 554.3,368.7 557.8,370.5 561.3,372.2 564.8,373.8 568.3,375.2 571.7,376.5 575.2,377.6 578.7,378.6 582.2,379.4 585.7,380.2 589.1,380.8 592.6,381.3 596.1,381.8 599.6,382.1 603.1,382.5 606.5,382.7 610.0,382.9 613.5,383.1 617.0,383.2 620.4,383.3 623.9,383.4 627.4,383.4 630.9,383.5 634.4,383.5 637.8,383.5 641.3,383.5 644.8,383.6" stroke="#77AC30"/><polyline points="88.1,383.6 91.6,383.6 95.1,383.6 98.5,383.6 102.0,383.6 105.5,383.6 109.0,383.6 112.5,383.6 115.9,383.6 119.4,383.6 122.9,383.6 126.4,383.6 129.8,383.6 133.3,383.6 136.8,383.6 140.3,383.6 143.8,383.6 147.2,383.6 150.7,383.6 154.2,383.6 157.7,383.6 161.2,383.6 164.6,383.6 168.1,383.6 171.6,383.6 175.1,383.6 178.6,383.6 182.0,383.6 185.5,383.6 189.0,383.6 192.5,383.6 196.0,383.6 199.4,383.6 202.9,383.6 206.4,383.6 209.9,383.6 213.4,383.6 216.8,383.6 220.3,383.6 223.8,383.6 227.3,383.6 230.8,383.6 234.2,383.6 237.7,383.6 241.2,383.6 244.7,383.6 248.1,383.6 251.6,383.6 255.1,383.6 258.6,383.6 262.1,383.6 265.5,383.6 269.0,383.6 272.5,383.6 276.0,383.6 279.5,383.6 282.9,383.6 286.4,383.6 289.9,383.6 293.4,383.6 296.9,383.6 300.3,383.6 303.8,383.6 307.3,383.6 310.8,383.6 314.3,383.6 317.7,383.6 321.2,383.6 324.7,383.6 328.2,383.6 331.7,383.6 335.1,383.6 338.6,383.6 342.1,383.6 345.6,383.6 349.1,383.6 352.5,383.6 356.0,383.6 359.5,383.6 363.0,383.5 366.5,383.5 369.9,383.5 373.4,383.4 376.9,383.4 380.4,383.3 383.8,383.2 387.3,383.1 390.8,382.9 394.3,382.7 397.8,382.5 401.2,382.2 404.7,381.8 408.2,381.4 411.7,380.8 415.2,380.2 418.6,379.4 422.1,378.6 425.6,377.6 429.1,376.4 432.6,375.1 436.0,373.6 439.5,372.0 443.0,370.2 446.5,368.2 450.0,366.2 453.4,364.0 456.9,361.7 460.4,359.3 463.9,357.0 467.4,354.6 470.8,352.3 474.3,350.1 477.8,348.0 481.3,346.1 484.8,344.4 488.2,343.0 491.7,341.9 495.2,341.1 498.7,340.6 502.1,340.5 505.6,340.7 509.1,341.3 512.6,342.2 516.1,343.4 519.5,344.9 523.0,346.6 526.5,348.5 530.0,350.6 533.5,352.8 536.9,355.1 540.4,357.5 543.9,359.8 547.4,362.1 550.9,364.3 554.3,366.4 557.8,368.5 561.3,370.3 564.8,372.1 568.3,373.7 571.7,375.1 575.2,376.4 578.7,377.6 582.2,378.6 585.7,379.4 589.1,380.2 592.6,380.8 596.1,381.3 599.6,381.8 603.1,382.2 606.5,382.5 610.0,382.7 613.5,382.9 617.0,383.1 620.4,383.2 623.9,383.3 627.4,383.4 630.9,383.4 634.4,383.5 637.8,383.5 641.3,383.5 644.8,383.6" stroke="#77AC30"/><polyline points="88.1,383.6 91.6,383.6 95.1,383.6 98.5,383.6 102.0,383.6 105.5,383.6 109.0,383.6 112.5,383.6 115.9,383.6 119.4,383.6 122.9,383.6 126.4,383.6 129.8,383.6 133.3,383.6 136.8,383.6 140.3,383.6 143.8,383.6 147.2,383.6 150.7,383.6 154.2,383.6 157.7,383.6 161.2,383.6 164.6,383.6 168.1,383.6 171.6,383.6 175.1,383.6 178.6,383.6 182.0,383.6 185.5,383.6 189.0,383.6 192.5,383.6 196.0,383.6 199.4,383.6 202.9,383.6 206.4,383.6 209.9,383.6 213.4,383.6 216.8,383.6 220.3,383.6 223.8,383.6 227.3,383.6 230.8,383.6 234.2,383.6 237.7,383.6 241.2,383.6 244.7,383.6 248.1,383.6 251.6,383.6 255.1,383.6 258.6,383.6 262.1,383.6 265.5,383.6 269.0,383.6 272.5,383.6 276.0,383.6 279.5,383.6 282.9,383.6 286.4,383.6 289.9,383.6 293.4,383.6 296.9,383.6 300.3,383.6 303.8,383.6 307.3,383.6 310.8,383.6 314.3,383.6 317.7,383.6 321.2,383.6 324.7,383.6 328.2,383.6 331.7,383.6 335.1,383.6 338.6,383.6 342.1,383.6 345.6,383.6 349.1,383.6 352.5,383.5 356.0,383.5 359.5,383.5 363.0,383.5 366.5,383.5 369.9,383.4 373.4,383.4 376.9,383.4 380.4,383.3 383.8,383.3 387.3,383.2 390.8,383.1 394.3,383.0 397.8,382.9 401.2,382.7 404.7,382.6 408.2,382.4 411.7,382.2 415.2,381.9 418.6,381.6 422.1,381.3 425.6,380.9 429.1,380.5 432.6,380.1 436.0,379.5 439.5,379.0 443.0,378.3 446.5,377.7 450.0,376.9 453.4,376.1 456.9,375.2 460.4,374.3 463.9,373.3 467.4,372.2 470.8,371.1 474.3,369.9 477.8,368.7 481.3,367.4 484.8,366.1 488.2,364.8 491.7,363.4 495.2,362.0 498.7,360.7 502.1,359.3 505.6,358.0 509.1,356.7 512.6,355.5 516.1,354.3 519.5,353.3 523.0,352.3 526.5,351.4 530.0,350.6 533.5,349.9 536.9,349.3 540.4,348.9 543.9,348.7 547.4,348.5 550.9,348.6 554.3,348.8 557.8,349.3 561.3,350.0 564.8,350.9 568.3,351.9 571.7,353.2 575.2,354.5 578.7,356.0 582.2,357.6 585.7,359.3 589.1,361.0 592.6,362.7 596.1,364.4 599.6,366.1 603.1,367.7 606.5,369.3 610.0,370.8 613.5,372.2 617.0,373.5 620.4,374.8 623.9,375.9 627.4,376.9 630.9,377.9 634.4,378.7 637.8,379.4 641.3,380.1 644.8,380.7" stroke="#D95319"/><polyline points="88.1,383.6 91.6,383.6 95.1,383.6 98.5,383.6 102.0,383.6 105.5,383.6 109.0,383.6 112.5,383.6 115.9,383.6 119.4,383.6 122.9,383.6 126.4,383.6 129.8,383.6 133.3,383.6 136.8,383.6 140.3,383.6 143.8,383.6 147.2,383.6 150.7,383.6 154.2,383.6 157.7,383.6 161.2,383.6 164.6,383.6 168.1,383.6 171.6,383.6 175.1,383.6 178.6,383.6 182.0,383.6 185.5,383.6 189.0,383.6 192.5,383.6 196.0,383.6 199.4,383.6 202.9,383.6 206.4,383.6 209.9,383.6 213.4,383.6 216.8,383.6 220.3,383.6 223.8,383.6 227.3,383.6 230.8,383.6 234.2,383.6 237.7,383.6 241.2,383.6 244.7,383.6 248.1,383.6 251.6,383.6 255.1,383.6 258.6,383.6 262.1,383.6 265.5,383.6 269.0,383.6 272.5,383.6 276.0,383.6 279.5,383.6 282.9,383.6 286.4,383.6 289.9,383.6 293.4,383.6 296.9,383.6 300.3,383.6 303.8,383.6 307.3,383.6 310.8,383.6 314.3,383.6 317.7,383.6 321.2,383.6 324.7,383.6 328.2,383.6 331.7,383.6 335.1,383.6 338.6,383.6 342.1,383.6 345.6,383.6 349.1,383.6 352.5,383.6 356.0,383.6 359.5,383.5 363.0,383.5 366.5,383.5 369.9,383.5 373.4,383.5 376.9,383.4 380.4,383.4 383.8,383.3 387.3,383.3 390.8,383.2 394.3,383.1 397.8,383.0 401.2,382.9 404.7,382.8 408.2,382.6 411.7,382.5 415.2,382.2 418.6,382.0 422.1,381.7 425.6,381.4 429.1,381.1 432.6,380.7 436.0,380.2 439.5,379.7 443.0,379.2 446.5,378.6 450.0,377.9 453.4,377.1 456.9,376.3 460.4,375.5 463.9,374.5 467.4,373.5 470.8,372.5 474.3,371.3 477.8,370.2 481.3,368.9 484.8,367.6 488.2,366.3 491.7,364.9 495.2,363.5 498.7,362.1 502.1,360.7 505.6,359.3 509.1,357.9 512.6,356.6 516.1,355.3 519.5,354.0 523.0,352.8 526.5,351.7 530.0,350.7 533.5,349.8 536.9,349.1 540.4,348.4 543.9,347.9 547.4,347.5 550.9,347.3 554.3,347.3 557.8,347.4 561.3,347.7 564.8,348.3 568.3,349.1 571.7,350.1 575.2,351.3 578.7,352.6 582.2,354.1 585.7,355.7 589.1,357.3 592.6,359.1 596.1,360.8 599.6,362.6 603.1,364.4 606.5,366.1 610.0,367.8 613.5,369.4 617.0,370.9 620.4,372.4 623.9,373.7 627.4,374.9 630.9,376.1 634.4,377.1 637.8,378.0 641.3,378.8 644.8,379.6" stroke="#EDB120"/><polyline points="88.1,383.6 91.6,383.6 95.1,383.6 98.5,383.6 102.0,383.6 105.5,383.6 109.0,383.6 112.5,383.6 115.9,383.6 119.4,383.6 122.9,383.6 126.4,383.6 129.8,383.6 133.3,383.6 136.8,383.6 140.3,383.6 143.8,383.6 147.2,383.6 150.7,383.6 154.2,383.6 157.7,383.6 161.2,383.6 164.6,383.6 168.1,383.6 171.6,383.6 175.1,383.6 178.6,383.6 182.0,383.6 185.5,383.6 189.0,383.6 192.5,383.6 196.0,383.6 199.4,383.6 202.9,383.6 206.4,383.6 209.9,383.6 213.4,383.6 216.8,383.6 220.3,383.6 223.8,383.6 227.3,383.6 230.8,383.6 234.2,383.6 237.7,383.6 241.2,383.6 244.7,383.6 248.1,383.6 251.6,383.6 255.1,383.6 258.6,383.6 262.1,383.6 265.5,383.6 269.0,383.6 272.5,383.6 276.0,383.6 279.5,383.6 282.9,383.6 286.4,383.6 289.9,383.6 293.4,383.6 296.9,383.6 300.3,383.6 303.8,383.6 307.3,383.6 310.8,383.6 314.3,383.6 317.7,383.6 321.2,383.6 324.7,383.6 328.2,383.6 331.7,383.6 335.1,383.6 338.6,383.6 342.1,383.6 345.6,383.6 349.1,383.6 352.5,383.6 356.0,383.6 359.5,383.6 363.0,383.6 366.5,383.5 369.9,383.5 373.4,383.5 376.9,383.5 380.4,383.5 383.8,383.4 387.3,383.4 390.8,383.3 394.3,383.3 397.8,383.2 401.2,383.1 404.7,383.0 408.2,382.9 411.7,382.8 415.2,382.6 418.6,382.4 422.1,382.2 425.6,381.9 429.1,381.6 432.6,381.3 436.0,381.0 439.5,380.5 443.0,380.1 446.5,379.5 450.0,379.0 453.4,378.3 456.9,377.6 460.4,376.8 463.9,376.0 467.4,375.0 470.8,374.1 474.3,373.0 477.8,371.9 481.3,370.7 484.8,369.4 488.2,368.1 491.7,366.7 495.2,365.3 498.7,363.8 502.1,362.3 505.6,360.8 509.1,359.3 512.6,357.8 516.1,356.3 519.5,354.8 523.0,353.4 526.5,352.0 530.0,350.7 533.5,349.5 536.9,348.5 540.4,347.5 543.9,346.6 547.4,345.9 550.9,345.3 554.3,344.9 557.8,344.6 561.3,344.5 564.8,344.6 568.3,344.9 571.7,345.5 575.2,346.3 578.7,347.3 582.2,348.6 585.7,350.0 589.1,351.5 592.6,353.2 596.1,355.0 599.6,356.8 603.1,358.7 606.5,360.7 610.0,362.6 613.5,364.4 617.0,366.2 620.4,368.0 623.9,369.6 627.4,371.2 630.9,372.7 634.4,374.0 637.8,375.3 641.3,376.4 644.8,377.4" stroke="#0072BD"/><polyline points="88.1,383.6 91.6,383.6 95.1,383.6 98.5,383.6 102.0,383.6 105.5,383.6 109.0,383.6 112.5,383.6 115.9,383.6 119.4,383.6 122.9,383.6 126.4,383.6 129.8,383.6 133.3,383.6 136.8,383.6 140.3,383.6 143.8,383.6 147.2,383.6 150.7,383.6 154.2,383.6 157.7,383.6 161.2,383.6 164.6,383.6 168.1,383.6 171.6,383.6 175.1,383.6 178.6,383.6 182.0,383.6 185.5,383.6 189.0,383.6 192.5,383.6 196.0,383.6 199.4,383.6 202.9,383.6 206.4,383.6 209.9,383.6 213.4,383.6 216.8,383.6 220.3,383.6 223.8,383.6 227.3,383.6 230.8,383.6 234.2,383.6 237.7,383.6 241.2,383.6 244.7,383.6 248.1,383.6 251.6,383.6 255.1,383.6 258.6,383.6 262.1,383.6 265.5,383.6 269.0,383.6 272.5,383.6 276.0,383.6 279.5,383.6 282.9,383.6 286.4,383.6 289.9,383.6 293.4,383.6 296.9,383.6 300.3,383.6 303.8,383.6 307.3,383.6 310.8,383.6 314.3,383.6 317.7,383.6 321.2,383.6 324.7,383.6 328.2,383.6 331.7,383.6 335.1,383.6 338.6,383.6 342.1,383.6 345.6,383.6 349.1,383.6 352.5,383.6 356.0,383.6 359.5,383.6 363.0,383.6 366.5,383.6 369.9,383.5 373.4,383.5 376.9,383.5 380.4,383.5 383.8,383.4 387.3,383.4 390.8,383.4 394.3,383.3 397.8,383.3 401.2,383.2 404.7,383.1 408.2,383.0 411.7,382.9 415.2,382.7 418.6,382.6 422.1,382.4 425.6,382.1 429.1,381.9 432.6,381.6 436.0,381.2 439.5,380.9 443.0,380.4 446.5,379.9 450.0,379.4 453.4,378.8 456.9,378.1 460.4,377.4 463.9,376.6 467.4,375.7 470.8,374.8 474.3,373.8 477.8,372.7 481.3,371.6 484.8,370.3 488.2,369.1 491.7,367.7 495.2,366.3 498.7,364.9 502.1,363.4 505.6,361.9 509.1,360.4 512.6,358.8 516.1,357.3 519.5,355.8 523.0,354.4 526.5,352.9 530.0,351.6 533.5,350.3 536.9,349.1 540.4,348.1 543.9,347.1 547.4,346.3 550.9,345.6 554.3,345.0 557.8,344.6 561.3,344.4 564.8,344.3 568.3,344.4 571.7,344.8 575.2,345.4 578.7,346.3 582.2,347.4 585.7,348.6 589.1,350.1 592.6,351.7 596.1,353.4 599.6,355.2 603.1,357.1 606.5,359.0 610.0,360.9 613.5,362.8 617.0,364.7 620.4,366.5 623.9,368.2 627.4,369.9 630.9,371.4 634.4,372.9 637.8,374.2 641.3,375.5 644.8,376.6" stroke="#4DBEEE"/><polyline points="88.1,383.6 91.6,383.6 95.1,383.6 98.5,383.6 102.0,383.6 105.5,383.6 109.0,383.6 112.5,383.6 115.9,383.6 119.4,383.6 122.9,383.6 126.4,383.6 129.8,383.6 133.3,383.6 136.8,383.6 140.3,383.6 143.8,383.6 147.2,383.6 150.7,383.6 154.2,383.6 157.7,383.6 161.2,383.6 164.6,383.6 168.1,383.6 171.6,383.6 175.1,383.6 178.6,383.6 182.0,383.6 185.5,383.6 189.0,383.6 192.5,383.6 196.0,383.6 199.4,383.6 202.9,383.6 206.4,383.6 209.9,383.6 213.4,383.6 216.8,383.6 220.3,383.6 223.8,383.6 227.3,383.6 230.8,383.6 234.2,383.6 237.7,383.6 241.2,383.6 244.7,383.6 248.1,383.6 251.6,383.6 255.1,383.6 258.6,383.6 262.1,383.6 265.5,383.6 269.0,383.6 272.5,383.6 276.0,383.6 279.5,383.6 282.9,383.6 286.4,383.6 289.9,383.6 293.4,383.6 296.9,383.6 300.3,383.6 303.8,383.6 307.3,383.6 310.8,383.6 314.3,383.6 317.7,383.6 321.2,383.6 324.7,383.6 328.2,383.6 331.7,383.6 335.1,383.6 338.6,383.6 342.1,383.6 345.6,383.6 349.1,383.6 352.5,383.6 356.0,383.6 359.5,383.6 363.0,383.6 366.5,383.6 369.9,383.5 373.4,383.5 376.9,383.5 380.4,383.5 383.8,383.5 387.3,383.4 390.8,383.4 394.3,383.3 397.8,383.3 401.2,383.2 404.7,383.1 408.2,383.0 411.7,382.9 415.2,382.8 418.6,382.6 422.1,382.5 425.6,382.3 429.1,382.0 432.6,381.7 436.0,381.4 439.5,381.1 443.0,380.7 446.5,380.2 450.0,379.7 453.4,379.1 456.9,378.5 460.4,377.8 463.9,377.0 467.4,376.2 470.8,375.3 474.3,374.3 477.8,373.3 481.3,372.1 484.8,370.9 488.2,369.7 491.7,368.4 495.2,367.0 498.7,365.6 502.1,364.1 505.6,362.6 509.1,361.0 512.6,359.5 516.1,358.0 519.5,356.4 523.0,354.9 526.5,353.5 530.0,352.1 533.5,350.7 536.9,349.5 540.4,348.3 543.9,347.3 547.4,346.3 550.9,345.6 554.3,344.9 557.8,344.4 561.3,344.1 564.8,343.9 568.3,343.9 571.7,344.1 575.2,344.6 578.7,345.3 582.2,346.3 585.7,347.5 589.1,348.8 592.6,350.4 596.1,352.0 599.6,353.8 603.1,355.7 606.5,357.6 610.0,359.5 613.5,361.4 617.0,363.4 620.4,365.2 623.9,367.0 627.4,368.8 630.9,370.4 634.4,371.9 637.8,373.3 641.3,374.6 644.8,375.8" stroke="#0072BD"/><polyline points="88.1,383.6 91.6,383.6 95.1,383.6 98.5,383.6 102.0,383.6 105.5,383.6 109.0,383.6 112.5,383.6 115.9,383.6 119.4,383.6 122.9,383.6 126.4,383.6 129.8,383.6 133.3,383.6 136.8,383.6 140.3,383.6 143.8,383.6 147.2,383.6 150.7,383.6 154.2,383.6 157.7,383.6 161.2,383.6 164.6,383.6 168.1,383.6 171.6,383.6 175.1,383.6 178.6,383.6 182.0,383.6 185.5,383.6 189.0,383.6 192.5,383.6 196.0,383.6 199.4,383.6 202.9,383.6 206.4,383.6 209.9,383.6 213.4,383.6 216.8,383.6 220.3,383.6 223.8,383.6 227.3,383.6 230.8,383.6 234.2,383.6 237.7,383.6 241.2,383.6 244.7,383.6 248.1,383.6 251.6,383.6 255.1,383.6 258.6,383.6 262.1,383.6 265.5,383.6 269.0,383.6 272.5,383.6 276.0,383.6 279.5,383.6 282.9,383.6 286.4,383.6 289.9,383.6 293.4,383.6 296.9,383.6 300.3,383.6 303.8,383.6 307.3,383.6 310.8,383.6 314.3,383.6 317.7,383.6 321.2,383.6 324.7,383.6 328.2,383.6 331.7,383.6 335.1,383.6 338.6,383.6 342.1,383.6 345.6,383.6 349.1,383.6 352.5,383.6 356.0,383.6 359.5,383.6 363.0,383.6 366.5,383.6 369.9,383.5 373.4,383.5 376.9,383.5 380.4,383.5 383.8,383.5 387.3,383.4 390.8,383.4 394.3,383.4 397.8,383.3 401.2,383.2 404.7,383.2 408.2,383.1 411.7,383.0 415.2,382.8 418.6,382.7 422.1,382.5 425.6,382.3 429.1,382.1 432.6,381.8 436.0,381.5 439.5,381.2 443.0,380.8 446.5,380.4 450.0,379.9 453.4,379.3 456.9,378.7 460.4,378.0 463.9,377.3 467.4,376.5 470.8,375.6 474.3,374.6 477.8,373.6 481.3,372.5 484.8,371.3 488.2,370.1 491.7,368.7 495.2,367.4 498.7,365.9 502.1,364.5 505.6,363.0 509.1,361.4 512.6,359.9 516.1,358.3 519.5,356.8 523.0,355.2 526.5,353.7 530.0,352.3 533.5,350.9 536.9,349.6 540.4,348.4 543.9,347.3 547.4,346.3 550.9,345.5 554.3,344.7 557.8,344.2 561.3,343.8 564.8,343.5 568.3,343.4 571.7,343.6 575.2,343.9 578.7,344.6 582.2,345.4 585.7,346.5 589.1,347.8 592.6,349.2 596.1,350.8 599.6,352.5 603.1,354.3 606.5,356.2 610.0,358.1 613.5,360.0 617.0,361.9 620.4,363.8 623.9,365.7 627.4,367.4 630.9,369.1 634.4,370.7 637.8,372.2 641.3,373.6 644.8,374.9" stroke="#0072BD"/><polyline points="88.1,383.6 91.6,383.6 95.1,383.6 98.5,383.6 102.0,383.6 105.5,383.6 109.0,383.6 112.5,383.6 115.9,383.6 119.4,383.6 122.9,383.6 126.4,383.6 129.8,383.6 133.3,383.6 136.8,383.6 140.3,383.6 143.8,383.6 147.2,383.6 150.7,383.6 154.2,383.6 157.7,383.6 161.2,383.6 164.6,383.6 168.1,383.6 171.6,383.6 175.1,383.6 178.6,383.6 182.0,383.6 185.5,383.6 189.0,383.6 192.5,383.6 196.0,383.6 199.4,383.6 202.9,383.6 206.4,383.6 209.9,383.6 213.4,383.6 216.8,383.6 220.3,383.6 223.8,383.6 227.3,383.6 230.8,383.6 234.2,383.6 237.7,383.6 241.2,383.6 244.7,383.6 248.1,383.6 251.6,383.6 255.1,383.6 258.6,383.6 262.1,383.6 265.5,383.6 269.0,383.6 272.5,383.6 276.0,383.6 279.5,383.6 282.9,383.6 286.4,383.6 289.9,383.6 293.4,383.6 296.9,383.6 300.3,383.6 303.8,383.6 307.3,383.6 310.8,383.6 314.3,383.6 317.7,383.6 321.2,383.6 324.7,383.6 328.2,383.6 331.7,383.6 335.1,383.6 338.6,383.6 342.1,383.6 345.6,383.6 349.1,383.6 352.5,383.6 356.0,383.6 359.5,383.6 363.0,383.6 366.5,383.6 369.9,383.6 373.4,383.5 376.9,383.5 380.4,383.5 383.8,383.5 387.3,383.5 390.8,383.4 394.3,383.4 397.8,383.3 401.2,383.3 404.7,383.2 408.2,383.1 411.7,383.0 415.2,382.9 418.6,382.8 422.1,382.6 425.6,382.4 429.1,382.2 432.6,381.9 436.0,381.6 439.5,381.3 443.0,380.9 446.5,380.5 450.0,380.0 453.4,379.5 456.9,378.9 460.4,378.2 463.9,377.5 467.4,376.7 470.8,375.9 474.3,374.9 477.8,373.9 481.3,372.8 484.8,371.7 488.2,370.4 491.7,369.1 495.2,367.8 498.7,366.3 502.1,364.9 505.6,363.4 509.1,361.8 512.6,360.3 516.1,358.7 519.5,357.1 523.0,355.5 526.5,354.0 530.0,352.5 533.5,351.1 536.9,349.8 540.4,348.5 543.9,347.3 547.4,346.3 550.9,345.4 554.3,344.6 557.8,344.0 561.3,343.5 564.8,343.2 568.3,343.0 571.7,343.1 575.2,343.3 578.7,343.9 582.2,344.6 585.7,345.6 589.1,346.7 592.6,348.1 596.1,349.6 599.6,351.2 603.1,353.0 606.5,354.8 610.0,356.7 613.5,358.6 617.0,360.5 620.4,362.4 623.9,364.3 627.4,366.1 630.9,367.8 634.4,369.5 637.8,371.0 641.3,372.5 644.8,373.8" stroke="#7E2F8E"/><polyline points="88.1,383.6 91.6,383.6 95.1,383.6 98.5,383.6 102.0,383.6 105.5,383.6 109.0,383.6 112.5,383.6 115.9,383.6 119.4,383.6 122.9,383.6 126.4,383.6 129.8,383.6 133.3,383.6 136.8,383.6 140.3,383.6 143.8,383.6 147.2,383.6 150.7,383.6 154.2,383.6 157.7,383.6 161.2,383.6 164.6,383.6 168.1,383.6 171.6,383.6 175.1,383.6 178.6,383.6 182.0,383.6 185.5,383.6 189.0,383.6 192.5,383.6 196.0,383.6 199.4,383.6 202.9,383.6 206.4,383.6 209.9,383.6 213.4,383.6 216.8,383.6 220.3,383.6 223.8,383.6 227.3,383.6 230.8,383.6 234.2,383.6 237.7,383.6 241.2,383.6 244.7,383.6 248.1,383.6 251.6,383.6 255.1,383.6 258.6,383.6 262.1,383.6 265.5,383.6 269.0,383.6 272.5,383.6 276.0,383.6 279.5,383.6 282.9,383.6 286.4,383.6 289.9,383.6 293.4,383.6 296.9,383.6 300.3,383.6 303.8,383.6 307.3,383.6 310.8,383.6 314.3,383.6 317.7,383.6 321.2,383.6 324.7,383.6 328.2,383.6 331.7,383.6 335.1,383.6 338.6,383.6 342.1,383.6 345.6,383.6 349.1,383.6 352.5,383.6 356.0,383.6 359.5,383.6 363.0,383.6 366.5,383.6 369.9,383.6 373.4,383.5 376.9,383.5 380.4,383.5 383.8,383.5 387.3,383.5 390.8,383.4 394.3,383.4 397.8,383.4 401.2,383.3 404.7,383.2 408.2,383.2 411.7,383.1 415.2,383.0 418.6,382.8 422.1,382.7 425.6,382.5 429.1,382.3 432.6,382.1 436.0,381.8 439.5,381.5 443.0,381.2 446.5,380.8 450.0,380.3 453.4,379.8 456.9,379.3 460.4,378.6 463.9,377.9 467.4,377.2 470.8,376.3 474.3,375.4 477.8,374.4 481.3,373.4 484.8,372.3 488.2,371.0 491.7,369.8 495.2,368.4 498.7,367.0 502.1,365.5 505.6,364.0 509.1,362.4 512.6,360.8 516.1,359.2 519.5,357.6 523.0,355.9 526.5,354.3 530.0,352.8 533.5,351.3 536.9,349.8 540.4,348.4 543.9,347.2 547.4,346.0 550.9,344.9 554.3,344.0 557.8,343.2 561.3,342.6 564.8,342.2 568.3,341.9 571.7,341.8 575.2,341.8 578.7,342.2 582.2,342.7 585.7,343.6 589.1,344.6 592.6,345.8 596.1,347.3 599.6,348.8 603.1,350.6 606.5,352.4 610.0,354.3 613.5,356.2 617.0,358.2 620.4,360.2 623.9,362.2 627.4,364.1 630.9,365.9 634.4,367.7 637.8,369.4 641.3,371.0 644.8,372.4" stroke="#A2142F"/><polyline points="88.1,383.6 91.6,383.6 95.1,383.6 98.5,383.6 102.0,383.6 105.5,383.6 109.0,383.6 112.5,383.6 115.9,383.6 119.4,383.6 122.9,383.6 126.4,383.6 129.8,383.6 133.3,383.6 136.8,383.6 140.3,383.6 143.8,383.6 147.2,383.6 150.7,383.6 154.2,383.6 157.7,383.6 161.2,383.6 164.6,383.6 168.1,383.6 171.6,383.6 175.1,383.6 178.6,383.6 182.0,383.6 185.5,383.6 189.0,383.6 192.5,383.6 196.0,383.6 199.4,383.6 202.9,383.6 206.4,383.6 209.9,383.6 213.4,383.6 216.8,383.6 220.3,383.6 223.8,383.6 227.3,383.6 230.8,383.6 234.2,383.6 237.7,383.6 241.2,383.6 244.7,383.6 248.1,383.6 251.6,383.6 255.1,383.6 258.6,383.6 262.1,383.6 265.5,383.6 269.0,383.6 272.5,383.6 276.0,383.6 279.5,383.6 282.9,383.6 286.4,383.6 289.9,383.6 293.4,383.6 296.9,383.6 300.3,383.6 303.8,383.6 307.3,383.6 310.8,383.6 314.3,383.6 317.7,383.6 321.2,383.6 324.7,383.6 328.2,383.6 331.7,383.6 335.1,383.6 338.6,383.6 342.1,383.6 345.6,383.6 349.1,383.6 352.5,383.6 356.0,383.6 359.5,383.6 363.0,383.6 366.5,383.6 369.9,383.6 373.4,383.6 376.9,383.6 380.4,383.6 383.8,383.6 387.3,383.6 390.8,383.6 394.3,383.6 397.8,383.6 401.2,383.6 404.7,383.6 408.2,383.6 411.7,383.6 415.2,383.6 418.6,383.6 422.1,383.6 425.6,383.6 429.1,383.6 432.6,383.6 436.0,383.6 439.5,383.6 443.0,383.6 446.5,383.6 450.0,383.6 453.4,383.6 456.9,383.6 460.4,383.6 463.9,383.6 467.4,383.6 470.8,383.6 474.3,383.5 477.8,383.5 481.3,383.5 484.8,383.4 488.2,383.4 491.7,383.3 495.2,383.2 498.7,383.0 502.1,382.8 505.6,382.6 509.1,382.3 512.6,381.9 516.1,381.4 519.5,380.8 523.0,380.1 526.5,379.2 530.0,378.2 533.5,377.0 536.9,375.5 540.4,373.9 543.9,372.0 547.4,369.9 550.9,367.5 554.3,364.9 557.8,362.0 561.3,358.9 564.8,355.6 568.3,352.2 571.7,348.6 575.2,345.0 578.7,341.4 582.2,337.8 585.7,334.3 589.1,331.1 592.6,328.1 596.1,325.5 599.6,323.3 603.1,321.5 606.5,320.3 610.0,319.5 613.5,319.4 617.0,319.6 620.4,320.2 623.9,321.1 627.4,322.3 630.9,323.8 634.4,325.5 637.8,327.5 641.3,329.8 644.8,332.2" stroke="#EDB120"/><polyline points="88.1,383.6 91.6,383.6 95.1,383.6 98.5,383.6 102.0,383.6 105.5,383.6 109.0,383.6 112.5,383.6 115.9,383.6 119.4,383.6 122.9,383.6 126.4,383.6 129.8,383.6 133.3,383.6 136.8,383.6 140.3,383.6 143.8,383.6 147.2,383.6 150.7,383.6 154.2,383.6 157.7,383.6 161.2,383.6 164.6,383.6 168.1,383.6 171.6,383.6 175.1,383.6 178.6,383.6 182.0,383.6 185.5,383.6 189.0,383.6 192.5,383.6 196.0,383.6 199.4,383.6 202.9,383.6 206.4,383.6 209.9,383.6 213.4,383.6 216.8,383.6 220.3,383.6 223.8,383.6 227.3,383.6 230.8,383.6 234.2,383.6 237.7,383.6 241.2,383.6 244.7,383.6 248.1,383.6 251.6,383.6 255.1,383.6 258.6,383.6 262.1,383.6 265.5,383.6 269.0,383.6 272.5,383.6 276.0,383.6 279.5,383.6 282.9,383.6 286.4,383.6 289.9,383.6 293.4,383.6 296.9,383.6 300.3,383.6 303.8,383.6 307.3,383.6 310.8,383.6 314.3,383.6 317.7,383.6 321.2,383.6 324.7,383.6 328.2,383.6 331.7,383.6 335.1,383.6 338.6,383.6 342.1,383.6 345.6,383.6 349.1,383.6 352.5,383.6 356.0,383.6 359.5,383.6 363.0,383.6 366.5,383.6 369.9,383.6 373.4,383.6 376.9,383.6 380.4,383.6 383.8,383.6 387.3,383.6 390.8,383.6 394.3,383.6 397.8,383.6 401.2,383.6 404.7,383.6 408.2,383.6 411.7,383.6 415.2,383.6 418.6,383.6 422.1,383.6 425.6,383.6 429.1,383.6 432.6,383.6 436.0,383.6 439.5,383.6 443.0,383.6 446.5,383.6 450.0,383.6 453.4,383.6 456.9,383.6 460.4,383.6 463.9,383.5 467.4,383.5 470.8,383.5 474.3,383.5 477.8,383.4 481.3,383.4 484.8,383.3 488.2,383.2 491.7,383.1 495.2,383.0 498.7,382.9 502.1,382.7 505.6,382.4 509.1,382.1 512.6,381.8 516.1,381.4 519.5,380.9 523.0,380.3 526.5,379.6 530.0,378.7 533.5,377.8 536.9,376.7 540.4,375.4 543.9,374.0 547.4,372.3 550.9,370.5 554.3,368.4 557.8,366.2 561.3,363.7 564.8,361.0 568.3,358.1 571.7,355.0 575.2,351.7 578.7,348.3 582.2,344.7 585.7,340.9 589.1,337.1 592.6,333.3 596.1,329.4 599.6,325.6 603.1,321.9 606.5,318.4 610.0,315.0 613.5,311.9 617.0,309.1 620.4,306.6 623.9,304.6 627.4,302.9 630.9,301.7 634.4,301.0 637.8,300.8 641.3,300.9 644.8,301.4" stroke="#D95319"/><polyline points="88.1,383.6 91.6,383.6 95.1,383.6 98.5,383.6 102.0,383.6 105.5,383.6 109.0,383.6 112.5,383.6 115.9,383.6 119.4,383.6 122.9,383.6 126.4,383.6 129.8,383.6 133.3,383.6 136.8,383.6 140.3,383.6 143.8,383.6 147.2,383.6 150.7,383.6 154.2,383.6 157.7,383.6 161.2,383.6 164.6,383.6 168.1,383.6 171.6,383.6 175.1,383.6 178.6,383.6 182.0,383.6 185.5,383.6 189.0,383.6 192.5,383.6 196.0,383.6 199.4,383.6 202.9,383.6 206.4,383.6 209.9,383.6 213.4,383.6 216.8,383.6 220.3,383.6 223.8,383.6 227.3,383.6 230.8,383.6 234.2,383.6 237.7,383.6 241.2,383.6 244.7,383.6 248.1,383.6 251.6,383.6 255.1,383.6 258.6,383.6 262.1,383.6 265.5,383.6 269.0,383.6 272.5,383.6 276.0,383.6 279.5,383.6 282.9,383.6 286.4,383.6 289.9,383.6 293.4,383.6 296.9,383.6 300.3,383.6 303.8,383.6 307.3,383.6 310.8,383.6 314.3,383.6 317.7,383.6 321.2,383.6 324.7,383.6 328.2,383.6 331.7,383.6 335.1,383.6 338.6,383.6 342.1,383.6 345.6,383.6 349.1,383.6 352.5,383.6 356.0,383.6 359.5,383.6 363.0,383.6 366.5,383.6 369.9,383.6 373.4,383.6 376.9,383.6 380.4,383.6 383.8,383.6 387.3,383.6 390.8,383.6 394.3,383.6 397.8,383.6 401.2,383.6 404.7,383.6 408.2,383.6 411.7,383.6 415.2,383.6 418.6,383.6 422.1,383.6 425.6,383.6 429.1,383.6 432.6,383.6 436.0,383.6 439.5,383.6 443.0,383.6 446.5,383.6 450.0,383.6 453.4,383.6 456.9,383.6 460.4,383.6 463.9,383.6 467.4,383.6 470.8,383.6 474.3,383.6 477.8,383.6 481.3,383.6 484.8,383.6 488.2,383.6 491.7,383.6 495.2,383.6 498.7,383.6 502.1,383.6 505.6,383.6 509.1,383.6 512.6,383.6 516.1,383.6 519.5,383.6 523.0,383.5 526.5,383.5 530.0,383.5 533.5,383.4 536.9,383.3 540.4,383.1 543.9,382.9 547.4,382.5 550.9,382.0 554.3,381.2 557.8,380.1 561.3,378.6 564.8,376.6 568.3,374.0 571.7,370.9 575.2,367.1 578.7,362.9 582.2,358.2 585.7,353.2 589.1,348.0 592.6,342.6 596.1,337.1 599.6,331.5 603.1,325.9 606.5,320.2 610.0,314.5 613.5,308.8 617.0,303.1 620.4,297.3 623.9,291.6 627.4,285.9 630.9,280.1 634.4,274.4 637.8,268.6 641.3,262.9 644.8,257.1" stroke="#7E2F8E"/><polyline points="88.1,383.6 91.6,383.6 95.1,383.6 98.5,383.6 102.0,383.6 105.5,383.6 109.0,383.6 112.5,383.6 115.9,383.6 119.4,383.6 122.9,383.6 126.4,383.6 129.8,383.6 133.3,383.6 136.8,383.6 140.3,383.6 143.8,383.6 147.2,383.6 150.7,383.6 154.2,383.6 157.7,383.6 161.2,383.6 164.6,383.6 168.1,383.6 171.6,383.6 175.1,383.6 178.6,383.6 182.0,383.6 185.5,383.6 189.0,383.6 192.5,383.6 196.0,383.6 199.4,383.6 202.9,383.6 206.4,383.6 209.9,383.6 213.4,383.6 216.8,383.6 220.3,383.6 223.8,383.6 227.3,383.6 230.8,383.6 234.2,383.6 237.7,383.6 241.2,383.6 244.7,383.6 248.1,383.6 251.6,383.6 255.1,383.6 258.6,383.6 262.1,383.6 265.5,383.6 269.0,383.6 272.5,383.6 276.0,383.6 279.5,383.6 282.9,383.6 286.4,383.6 289.9,383.6 293.4,383.6 296.9,383.6 300.3,383.6 303.8,383.6 307.3,383.6 310.8,383.6 314.3,383.6 317.7,383.6 321.2,383.6 324.7,383.6 328.2,383.6 331.7,383.6 335.1,383.6 338.6,383.6 342.1,383.6 345.6,383.6 349.1,383.6 352.5,383.6 356.0,383.6 359.5,383.6 363.0,383.6 366.5,383.6 369.9,383.6 373.4,383.6 376.9,383.6 380.4,383.6 383.8,383.6 387.3,383.6 390.8,383.6 394.3,383.6 397.8,383.6 401.2,383.6 404.7,383.6 408.2,383.6 411.7,383.6 415.2,383.6 418.6,383.6 422.1,383.6 425.6,383.6 429.1,383.6 432.6,383.6 436.0,383.6 439.5,383.6 443.0,383.6 446.5,383.6 450.0,383.6 453.4,383.6 456.9,383.6 460.4,383.6 463.9,383.6 467.4,383.6 470.8,383.6 474.3,383.6 477.8,383.6 481.3,383.6 484.8,383.6 488.2,383.6 491.7,383.6 495.2,383.6 498.7,383.6 502.1,383.6 505.6,383.6 509.1,383.6 512.6,383.6 516.1,383.6 519.5,383.6 523.0,383.6 526.5,383.5 530.0,383.5 533.5,383.4 536.9,383.4 540.4,383.2 543.9,383.1 547.4,382.8 550.9,382.4 554.3,381.8 557.8,380.9 561.3,379.7 564.8,378.1 568.3,375.9 571.7,373.2 575.2,370.0 578.7,366.1 582.2,361.9 585.7,357.3 589.1,352.4 592.6,347.3 596.1,342.0 599.6,336.7 603.1,331.3 606.5,325.8 610.0,320.4 613.5,314.9 617.0,309.4 620.4,303.8 623.9,298.3 627.4,292.8 630.9,287.2 634.4,281.7 637.8,276.2 641.3,270.6 644.8,265.1" stroke="#77AC30"/><line x1="88.09" y1="383.10" x2="644.81" y2="383.10" stroke="#77AC30"/></g>
<rect x="53.3" y="256.8" width="626.3000000000001" height="126.80000000000001" fill="none" stroke="#262626" stroke-width="1.8"/>
<line x1="122.89" y1="383.6" x2="122.89" y2="380.40000000000003" stroke="#262626" stroke-width="1.5"/>
<line x1="122.89" y1="256.8" x2="122.89" y2="260.0" stroke="#262626" stroke-width="1.5"/>
<line x1="192.48" y1="383.6" x2="192.48" y2="380.40000000000003" stroke="#262626" stroke-width="1.5"/>
<line x1="192.48" y1="256.8" x2="192.48" y2="260.0" stroke="#262626" stroke-width="1.5"/>
<line x1="262.07" y1="383.6" x2="262.07" y2="380.40000000000003" stroke="#262626" stroke-width="1.5"/>
<line x1="262.07" y1="256.8" x2="262.07" y2="260.0" stroke="#262626" stroke-width="1.5"/>
<line x1="331.66" y1="383.6" x2="331.66" y2="380.40000000000003" stroke="#262626" stroke-width="1.5"/>
<line x1="331.66" y1="256.8" x2="331.66" y2="260.0" stroke="#262626" stroke-width="1.5"/>
<line x1="401.24" y1="383.6" x2="401.24" y2="380.40000000000003" stroke="#262626" stroke-width="1.5"/>
<line x1="401.24" y1="256.8" x2="401.24" y2="260.0" stroke="#262626" stroke-width="1.5"/>
<line x1="470.83" y1="383.6" x2="470.83" y2="380.40000000000003" stroke="#262626" stroke-width="1.5"/>
<line x1="470.83" y1="256.8" x2="470.83" y2="260.0" stroke="#262626" stroke-width="1.5"/>
<line x1="540.42" y1="383.6" x2="540.42" y2="380.40000000000003" stroke="#262626" stroke-width="1.5"/>
<line x1="540.42" y1="256.8" x2="540.42" y2="260.0" stroke="#262626" stroke-width="1.5"/>
<line x1="610.01" y1="383.6" x2="610.01" y2="380.40000000000003" stroke="#262626" stroke-width="1.5"/>
<line x1="610.01" y1="256.8" x2="610.01" y2="260.0" stroke="#262626" stroke-width="1.5"/>
<line x1="53.3" y1="299.07" x2="56.5" y2="299.07" stroke="#262626" stroke-width="1.5"/>
<line x1="679.6" y1="299.07" x2="676.4" y2="299.07" stroke="#262626" stroke-width="1.5"/>
<text x="53.30" y="405.00" font-size="19.6" font-weight="400" text-anchor="middle" fill="#262626" >0</text>
<text x="122.89" y="405.00" font-size="19.6" font-weight="400" text-anchor="middle" fill="#262626" >1</text>
<text x="192.48" y="405.00" font-size="19.6" font-weight="400" text-anchor="middle" fill="#262626" >2</text>
<text x="262.07" y="405.00" font-size="19.6" font-weight="400" text-anchor="middle" fill="#262626" >3</text>
<text x="331.66" y="405.00" font-size="19.6" font-weight="400" text-anchor="middle" fill="#262626" >4</text>
<text x="401.24" y="405.00" font-size="19.6" font-weight="400" text-anchor="middle" fill="#262626" >5</text>
<text x="470.83" y="405.00" font-size="19.6" font-weight="400" text-anchor="middle" fill="#262626" >6</text>
<text x="540.42" y="405.00" font-size="19.6" font-weight="400" text-anchor="middle" fill="#262626" >7</text>
<text x="610.01" y="405.00" font-size="19.6" font-weight="400" text-anchor="middle" fill="#262626" >8</text>
<text x="50.80" y="305.37" font-size="19.6" font-weight="400" text-anchor="end" fill="#262626" >.2</text>
<text x="50.80" y="389.90" font-size="19.6" font-weight="400" text-anchor="end" fill="#262626" >.0</text>
<text x="367.30" y="422.90" font-size="21.5" font-weight="400" text-anchor="middle" fill="#262626" >Adjusted age (days)</text>
<text transform="translate(23.6,326) rotate(-90)" font-size="21.8" text-anchor="middle" fill="#262626">Intensity (a.u.)</text>
<line x1="122.89" y1="317" x2="122.89" y2="383.6" stroke="#111" stroke-width="2.6" stroke-dasharray="5.5,4.6"/>
<line x1="122.89" y1="412" x2="122.89" y2="426" stroke="#000" stroke-width="3.8"/>
<path d="M115.49,422.8 L130.29,422.8 L122.89,438 Z" fill="#000"/>
<text x="4.20" y="463.40" font-size="27.6" font-weight="700" text-anchor="start" fill="#000" >D</text>
<text x="61.80" y="463.60" font-size="26.85" font-weight="400" text-anchor="start" fill="#000" >Average-case (P1)</text>
<text x="351.60" y="463.40" font-size="27.6" font-weight="700" text-anchor="start" fill="#000" >E</text>
<text x="405.90" y="463.60" font-size="27.2" font-weight="400" text-anchor="start" fill="#000" >Difference (P2-P1)</text>
<defs><filter id="blur1" x="-20%" y="-20%" width="140%" height="140%"><feGaussianBlur stdDeviation="1.1"/></filter><filter id="blur05" x="-20%" y="-20%" width="140%" height="140%"><feGaussianBlur stdDeviation="0.6"/></filter><filter id="blur15" x="-30%" y="-30%" width="160%" height="160%"><feGaussianBlur stdDeviation="1.3"/></filter><filter id="blur2" x="-30%" y="-30%" width="160%" height="160%"><feGaussianBlur stdDeviation="1.9"/></filter></defs>
<rect x="4.5" y="475" width="328.1" height="309.3" fill="#0c0204"/>
<g transform="translate(0,0)"><g filter="url(#blur2)"><ellipse cx="55" cy="572.5" rx="31" ry="30" fill="#9c0200"/><path d="M68,542.5 L104,542.5 L104,602.5 L68,602.5 Z" fill="#a20200"/><path d="M97.5,572.5 L97.5,545 C97.5,530 104,516 118,515.5 C135,515 158,527 172,540 C178,546 184,549 190,552 C196,556 198.5,565 198.5,572.5 C198.5,580 196,589 190,593 C184,596 178,599 172,605 C158,618 135,630 118,629.5 C104,629 97.5,615 97.5,600 Z" fill="#bc0800"/><path d="M103,572.5 L103,548 C103,535 108,523 119,522.5 C134,522 154,533 167,545 C173,551 180,555 186,558 C190,561 192,566 192,572.5 C192,579 190,584 186,587 C180,590 173,594 167,600 C154,612 134,623 119,622.5 C108,622 103,610 103,597 Z" fill="#a20200"/><path d="M68,543 L98,543 C103,543 106,546 110,548 L110,597 C106,599 103,602 98,602 L68,602 Z" fill="#a20200"/></g><g filter="url(#blur2)" fill="none" stroke-linecap="round"><path d="M107,527 C116,530 126,537 134,545 C142,554 150,561.5 159.6,562 C168,561 180,560 191,560.4" stroke="#ff2800" stroke-width="8"/><path d="M107,618 C116,615 126,608 134,600 C142,591 150,583 159.6,582 C168,583 180,584 191,584" stroke="#ff2800" stroke-width="8"/></g><g filter="url(#blur1)" fill="none" stroke-linecap="round"><path d="M112,529 C120,532 127,538 134,545 C142,554 150,561.5 160,562 C168,561 176,560 186,559.5" stroke="#ff5000" stroke-width="3.5"/><path d="M112,616 C120,613 127,607 134,600 C142,591 150,583 160,582 C168,583 176,584 186,584.5" stroke="#ff5000" stroke-width="3.5"/><path d="M134,545 C142,554 150,561.5 160,562 C168,561 174,560.5 180,560" stroke="#ffa018" stroke-width="3.5"/><path d="M134,600 C142,591 150,583 160,582 C168,583 174,583.5 180,584" stroke="#ffa018" stroke-width="3.5"/><ellipse cx="160" cy="561.5" rx="7.5" ry="3.8" fill="#ffe840"/><ellipse cx="160" cy="582.5" rx="7.5" ry="3.8" fill="#ffe840"/></g><g transform="translate(0,572.5) scale(1,0.965) translate(0,-572.5)"><g filter="url(#blur1)"><path d="M79.8,539.7 C77,535.5 74,534.5 71.2,534.8 C66,535 62,538 59.4,540.8 C55,546 52.5,550 51.8,553.7 C49,560 48,566 48.1,573 C48,580 49.5,588 51.8,594.5 C54,600 57,603 61.5,606.3 C65,609 69,610.5 72.3,610.1 C76,609.5 79,607.5 80.3,604.2 C81.5,602 81,602.5 80.3,602 C78,601 76,599.5 74.4,597.7 C72,594.5 70.5,592 69.6,589.1 C68.5,584 68.3,580 68.5,575.2 C68.6,570 68.5,566 69,562.3 C69.8,558 71,554.5 72.3,551.5 C74.5,548 77,546 79.8,544 C81,543 81.5,541.5 79.8,539.7 Z" fill="#ffa818" stroke="#ffb020" stroke-width="1.5"/></g><g filter="url(#blur05)" fill="none"><path d="M79,538 C70,534 60,538 55,548 C50,558 50,588 55,598 C60,607 70,612 79,606" stroke="#ffe840" stroke-width="4.5"/><path d="M76,548 C68,554 64,562 65,575 C65,588 68,595 76,600" stroke="#ffe840" stroke-width="3"/><path d="M60,550 C57,560 57,585 60,596" stroke="#ffd030" stroke-width="2.5"/><path d="M73,541 C66,542 60,546 57,552 M57,593 C60,600 66,604 73,605" stroke="#ff6010" stroke-width="1.6"/><path d="M59,560 C58,568 58,580 59,588" stroke="#ffffd0" stroke-width="1.2"/><path d="M63.5,561 C62.5,568 62.5,580 63.5,587" stroke="#ffffd0" stroke-width="1.2"/></g></g><g filter="url(#blur2)"><path d="M268,516 C290,516 310.5,540 310.5,572.5 C310.5,605 290,628.5 270,628.5 C255,628.5 245,618 242,605 C240.5,595 240.5,550 242,540 C245,526 255,516 268,516 Z" fill="#bc0800"/><path d="M268,522.5 C286,522.5 304,544 304,572.5 C304,601 286,622 270,622 C258,622 250,614 248,603 C247,594 247,551 248,542 C250,531 258,522.5 268,522.5 Z" fill="#ae0400"/></g><g filter="url(#blur2)"><path d="M266.7,536 C272,534 284,534 289,536 C293,539 294,548 294,573 C294,598 293,606 289,609 C284,611 272,611 266.7,609 C265,605 265,596 267,594 C271,592 276,591 278,588 C278,586 275,586 271,586 C262,586 254,586 249.5,584 C248,582 250,580 256,580 C264,580 272,580 278,577 C281,574 281,571 278,567 C272,564 264,564.5 256,564.5 C250,564.5 248,562 249.5,560 C254,558 264,558 272,558 C276,557 277,555 277,552 C276,548 271,546 267,545 C265,543 265,538 266.7,536 Z" fill="#ff2800" stroke="#ff2800" stroke-width="4"/><path d="M249,561 C258,563 270,563 276,560 C280,557 280,550 277,545 M249,584 C258,582 270,582 276,585 C280,588 280,595 277,600" stroke="#ff2800" stroke-width="7" fill="none" stroke-linecap="round"/></g><g filter="url(#blur1)"><path d="M266.7,536 C272,534 284,534 289,536 C293,539 294,548 294,573 C294,598 293,606 289,609 C284,611 272,611 266.7,609 C265,605 265,596 267,594 C271,592 276,591 278,588 C278,586 275,586 271,586 C262,586 254,586 249.5,584 C248,582 250,580 256,580 C264,580 272,580 278,577 C281,574 281,571 278,567 C272,564 264,564.5 256,564.5 C250,564.5 248,562 249.5,560 C254,558 264,558 272,558 C276,557 277,555 277,552 C276,548 271,546 267,545 C265,543 265,538 266.7,536 Z" fill="#ffa018"/><path d="M250,561 C258,563 270,563 276,560 C280,557 280,550 277,545 M250,584 C258,582 270,582 276,585 C280,588 280,595 277,600" stroke="#ffa018" stroke-width="4.5" fill="none" stroke-linecap="round"/><path d="M272,537.5 C278,536 285,536 289,538.5 C291.5,546 291.5,600 289,606.5 C285,609 278,609 272,607.5 C270,604 274,600 279,597 C283,592 284,585 283,575 C283,562 283,552 279,546 C275,542 270,540 272,537.5 Z" fill="#ffe840"/><path d="M252,561.5 C260,562.5 268,562.5 275,560 M252,583.5 C260,582.5 268,582.5 275,585" stroke="#ffe840" stroke-width="2.8" fill="none" stroke-linecap="round"/><path d="M287,546 C289.5,560 289.5,590 287,600" stroke="#ffffd0" stroke-width="2.5" fill="none"/><path d="M256,537 C259,538 262,540 264,543 M256,608 C259,607 262,605 264,602" stroke="#ffa018" stroke-width="2.5" fill="none" stroke-linecap="round"/></g><g filter="url(#blur2)"><ellipse cx="60" cy="745.5" rx="36" ry="15.5" fill="#9c0200"/><path d="M48.3,712.7 C55,700 70,695.5 84.3,695.5 C98,695.5 106,698 109.3,703 C104,720 100,735 98.2,748.8 C85,752 60,745 50,735 C46,728 46,720 48.3,712.7 Z" fill="#9c0200"/><path d="M96.8,721 C100,707 112,697.5 126,697.5 C140,697.5 150,701 160,710 C170,720 176,729 181.4,740.5 C187,744 194,746 196.7,752 C197,758 190,762 180,762 C170,762 160,761.3 153.7,761.3 C140,761.3 120,761 103.8,759.9 C98,756 96,745 96.8,721 Z" fill="#bc0800"/><path d="M102,722 C105,710 114,702 126,702 C139,702 148,706 156,713 C165,722 171,731 176,742 C182,746 190,749 191,753 C190,757 182,758 175,758 C165,758 150,757 140,757 C125,757 112,756 106,754 C102,748 101,738 102,722 Z" fill="#a20200"/></g><g filter="url(#blur2)" fill="none" stroke-linecap="round"><path d="M119,738 C124,728 132,723 142,723 C151,723 155,731 157,740 C159,748 166,751.6 175,752 C182,752.5 188,753 193,753.5" stroke="#ff2800" stroke-width="10"/><path d="M117.6,712.7 C135,711 158,717 170.3,729.4" stroke="#ff2800" stroke-width="2.5"/></g><g filter="url(#blur1)" fill="none" stroke-linecap="round"><path d="M124,734 C130,726 138,723 145,724 C152,726 155,733 157,741 C159,748 165,751 172,751.5 C178,752 184,752.5 189,753" stroke="#ffa018" stroke-width="5.5"/><path d="M148,726 C153,730 156,737 157.5,743 C159,748 163,750 171,751" stroke="#ffe840" stroke-width="4"/></g><g filter="url(#blur15)"><path d="M57,741 C62,738 72,738 79,741 C80,745 74,748 66,748 C60,748 56,745 57,741 Z" fill="#ff2800"/></g><g filter="url(#blur1)"><path d="M60,742 C65,741 72,741 77,742.5" stroke="#ffa018" stroke-width="3" fill="none" stroke-linecap="round"/><path d="M46.9,721 C47,714 51,710 55.2,710 C60,709 66,710 70.5,711.4 C76,714 80,720 80.2,726.6 C80.5,732 78,736 74.6,736.3 C68,736.5 61,731 56.6,728 C52,726 47,725 46.9,721 Z" fill="#ffa018" stroke="#ffa018" stroke-width="2"/></g><g filter="url(#blur05)"><path d="M48.5,719 C49.5,713 55,710.5 62,711.5 C70,712.5 77,717 78.5,725 C79,732 75,735 70,733 C62,729 56,727 52,725 C49.5,723.5 48.5,721 48.5,719 Z" fill="#ffe840"/><path d="M56,716 C62,715 68,717 72,721 M54,721 C60,721 66,723 70,727" stroke="#ffffd0" stroke-width="1.3" fill="none"/></g></g>
<line x1="217" y1="475" x2="217" y2="784" stroke="#d0d0d0" stroke-width="2" stroke-dasharray="14.1,13.6" stroke-dashoffset="7.5"/>
<line x1="4.3" y1="662.6" x2="333" y2="662.6" stroke="#e8e8e8" stroke-width="2" stroke-dasharray="14.1,13.3" stroke-dashoffset="7.5"/>
<rect x="289" y="766.2" width="29" height="5.3" fill="#fff"/>
<text x="300.80" y="758.20" font-size="21.3" font-weight="400" text-anchor="middle" fill="#f2f2f2" >1 mm</text>
<rect x="352" y="474.9" width="328.3" height="309.8" fill="#fff"/>
<g transform="translate(347.4,0)"><g filter="url(#blur15)"><ellipse cx="55" cy="572.5" rx="31" ry="30" fill="#f4f4fb"/><path d="M68,542.5 L104,542.5 L104,602.5 L68,602.5 Z" fill="#f1eff8"/><path d="M97.5,572.5 L97.5,545 C97.5,530 104,516 118,515.5 C135,515 158,527 172,540 C178,546 184,549 190,552 C196,556 198.5,565 198.5,572.5 C198.5,580 196,589 190,593 C184,596 178,599 172,605 C158,618 135,630 118,629.5 C104,629 97.5,615 97.5,600 Z" fill="#f7eef3"/><path d="M103,572.5 L103,548 C103,535 108,523 119,522.5 C134,522 154,533 167,545 C173,551 180,555 186,558 C190,561 192,566 192,572.5 C192,579 190,584 186,587 C180,590 173,594 167,600 C154,612 134,623 119,622.5 C108,622 103,610 103,597 Z" fill="#fbf6f9"/></g><g filter="url(#blur1)" fill="none" stroke-linecap="round"><path d="M107,526.8 C118,528 130,540 140.2,553.3 C145,558 150,561.5 159.6,562 C168,561 180,560 191,560.4" stroke="#cfcdf2" stroke-width="4"/><path d="M107,618.2 C118,617 130,605 140.2,591.1 C145,587 150,583 159.6,581.9 C168,583 180,584 191,584" stroke="#cfcdf2" stroke-width="4"/></g><g filter="url(#blur05)" fill="none" stroke-linecap="round"><path d="M124,536 C132,542 137,550 142,555 C147,560 152,562 160,562" stroke="#3a32a0" stroke-width="1.6"/><path d="M150,563 C160,560 172,559 184,559" stroke="#b82848" stroke-width="2"/><path d="M124,609 C132,603 137,595 142,590 C147,585 152,582 160,582" stroke="#3a32a0" stroke-width="1.6"/><path d="M150,581 C160,584 172,585 184,585" stroke="#b82848" stroke-width="2"/></g><g filter="url(#blur05)"><path d="M79.8,539.7 C77,535.5 74,534.5 71.2,534.8 C66,535 62,538 59.4,540.8 C55,546 52.5,550 51.8,553.7 C49,560 48,566 48.1,573 C48,580 49.5,588 51.8,594.5 C54,600 57,603 61.5,606.3 C65,609 69,610.5 72.3,610.1 C76,609.5 79,607.5 80.3,604.2 C81.5,602 81,602.5 80.3,602 C78,601 76,599.5 74.4,597.7 C72,594.5 70.5,592 69.6,589.1 C68.5,584 68.3,580 68.5,575.2 C68.6,570 68.5,566 69,562.3 C69.8,558 71,554.5 72.3,551.5 C74.5,548 77,546 79.8,544 C81,543 81.5,541.5 79.8,539.7 Z" fill="#9a82bc" stroke="#3a32a0" stroke-width="2.2"/></g><g filter="url(#blur05)" fill="none"><path d="M77,540.5 C69,537.5 61,540.5 56.5,549 C51.5,558 51.5,588 56.5,597 C61,605 69,609.5 77,604.5" stroke="#b82848" stroke-width="1.5"/><path d="M76,544 C69,541.5 63,544 59.5,551 C55,560 55,586 59.5,595 C63,602 69,606 76,601.5" stroke="#3a32a0" stroke-width="1.1"/><path d="M77,546.5 C69,552 65,562 65,575 C65,588 69,595 77,600" stroke="#b82848" stroke-width="1.4"/><path d="M75,548 C67,555 62.5,562 62.5,575 C62.5,588 67,594 75,598" stroke="#3a32a0" stroke-width="1.2"/><path d="M59.5,559 C58.5,567 58.5,581 59.5,589" stroke="#3a32a0" stroke-width="1.5"/><path d="M63.5,562 C62.8,569 62.8,580 63.5,586" stroke="#b82848" stroke-width="1.0"/><path d="M54,556 C52.5,566 52.5,582 54,591" stroke="#b82848" stroke-width="1.2"/><path d="M78,543 C70,540 64,542 60,548 C56,556 56,588 60,597 C64,604 70,607 78,603" stroke="#e8d8ec" stroke-width="0.9"/><path d="M57,556 C55.5,566 55.5,582 57,591" stroke="#e8d8ec" stroke-width="0.9"/></g><g filter="url(#blur15)"><path d="M268,516 C290,516 310.5,540 310.5,572.5 C310.5,605 290,628.5 270,628.5 C255,628.5 245,618 242,605 C240.5,595 240.5,550 242,540 C245,526 255,516 268,516 Z" fill="#f7eef3"/><path d="M268,522.5 C286,522.5 304,544 304,572.5 C304,601 286,622 270,622 C258,622 250,614 248,603 C247,594 247,551 248,542 C250,531 258,522.5 268,522.5 Z" fill="#fbf6f9"/></g><g filter="url(#blur1)"><path d="M252,560 C260,561 268,561 277,559 M252,584 C260,583 268,583 277,586" stroke="#e6c8dc" stroke-width="6" fill="none" stroke-linecap="round"/></g><g filter="url(#blur05)"><path d="M272,536 C278,534.5 286,534.5 290,537 C293.5,540 294,550 294,573 C294,597 293.5,606 290,609 C286,611 278,611 272,609.5 C270,603 274,598 276,590 C277,580 277,565 276,556 C274,548 270,542 272,536 Z" fill="#7e6cbc" stroke="#3a32a0" stroke-width="1.4"/><path d="M290,538 C293,546 293.5,600 290,608" stroke="#b82848" stroke-width="1.8" fill="none"/><path d="M284,545 C287,560 287,590 284,602 M279,548 C281,562 281,588 279,600" stroke="#3a32a0" stroke-width="2.2" fill="none"/><path d="M252,561 C260,561 268,561 276,559 M252,583 C260,583 268,583 276,585" stroke="#b82848" stroke-width="1.6" fill="none" stroke-linecap="round"/><path d="M256,560 C262,559.5 270,559.5 276,557.5 M256,584.5 C262,585 270,585 276,587" stroke="#3a32a0" stroke-width="1.3" fill="none" stroke-linecap="round"/><path d="M257,538 C260,539 263,541 265,543 M257,607 C260,606 263,604 265,602" stroke="#8a80d8" stroke-width="2" fill="none" stroke-linecap="round"/></g><g filter="url(#blur15)"><ellipse cx="60" cy="745.5" rx="36" ry="15.5" fill="#f4f4fb"/><path d="M48.3,712.7 C55,700 70,695.5 84.3,695.5 C98,695.5 106,698 109.3,703 C104,720 100,735 98.2,748.8 C85,752 60,745 50,735 C46,728 46,720 48.3,712.7 Z" fill="#f2f1fa"/><path d="M96.8,721 C100,707 112,697.5 126,697.5 C140,697.5 150,701 160,710 C170,720 176,729 181.4,740.5 C187,744 194,746 196.7,752 C197,758 190,762 180,762 C170,762 160,761.3 153.7,761.3 C140,761.3 120,761 103.8,759.9 C98,756 96,745 96.8,721 Z" fill="#f7eef3"/><path d="M102,722 C105,710 114,702 126,702 C139,702 148,706 156,713 C165,722 171,731 176,742 C182,746 190,749 191,753 C190,757 182,758 175,758 C165,758 150,757 140,757 C125,757 112,756 106,754 C102,748 101,738 102,722 Z" fill="#fbf6f9"/></g><g filter="url(#blur1)" fill="none" stroke-linecap="round"><path d="M134,726 C142,723 150,727 154,735 C157,742 160,749 168,751 C174,752 180,752 188,753" stroke="#c8a8c8" stroke-width="7"/></g><g filter="url(#blur05)" fill="none" stroke-linecap="round"><path d="M138,726 C146,724 151,729 154,736 C157,743 161,749 168,751 C174,752 180,752 188,753" stroke="#b82848" stroke-width="1.8"/><path d="M141,723 C149,722 154,727 157,734 C160,741 163,746 170,748" stroke="#3a32a0" stroke-width="1.6"/><path d="M147,728 C151,733 154,740 157,745" stroke="#3a32a0" stroke-width="1.4"/></g><g filter="url(#blur05)"><path d="M46.9,721 C47,714 51,710 55.2,710 C60,709 66,710 70.5,711.4 C76,714 80,720 80.2,726.6 C80.5,732 78,736 74.6,736.3 C68,736.5 61,731 56.6,728 C52,726 47,725 46.9,721 Z" fill="#8068a8" stroke="#5a3c8a" stroke-width="2"/><path d="M52,717 C56,713 64,713 72,717 M54,723 C60,721 68,723 75,728 M50,720 C56,718 64,718 73,722" stroke="#b82848" stroke-width="1.4" fill="none"/><path d="M51,721 C56,719 64,719 73,724 M56,728 C62,727 68,729 74,733" stroke="#3a32a0" stroke-width="1.5" fill="none"/><path d="M57,741 C62,744 70,744 76,741" stroke="#9890e0" stroke-width="2" fill="none"/></g></g>
<line x1="565" y1="475" x2="565" y2="784" stroke="#222" stroke-width="2" stroke-dasharray="14.1,13.6" stroke-dashoffset="7.5"/>
<line x1="352" y1="662.6" x2="680.4" y2="662.6" stroke="#222" stroke-width="2" stroke-dasharray="13.8,13.5" stroke-dashoffset="7.3"/>
<rect x="352" y="474.9" width="328.3" height="309.8" fill="none" stroke="#2b2628" stroke-width="2.2"/>
<text x="624.80" y="702.60" font-size="21.9" font-weight="400" text-anchor="middle" fill="#b5294d" >increase</text>
<text x="623.90" y="728.20" font-size="21.9" font-weight="400" text-anchor="middle" fill="#9a9a9a" >no change</text>
<text x="624.00" y="752.90" font-size="21.9" font-weight="400" text-anchor="middle" fill="#5243d0" >decrease</text>
</svg></body></html>
